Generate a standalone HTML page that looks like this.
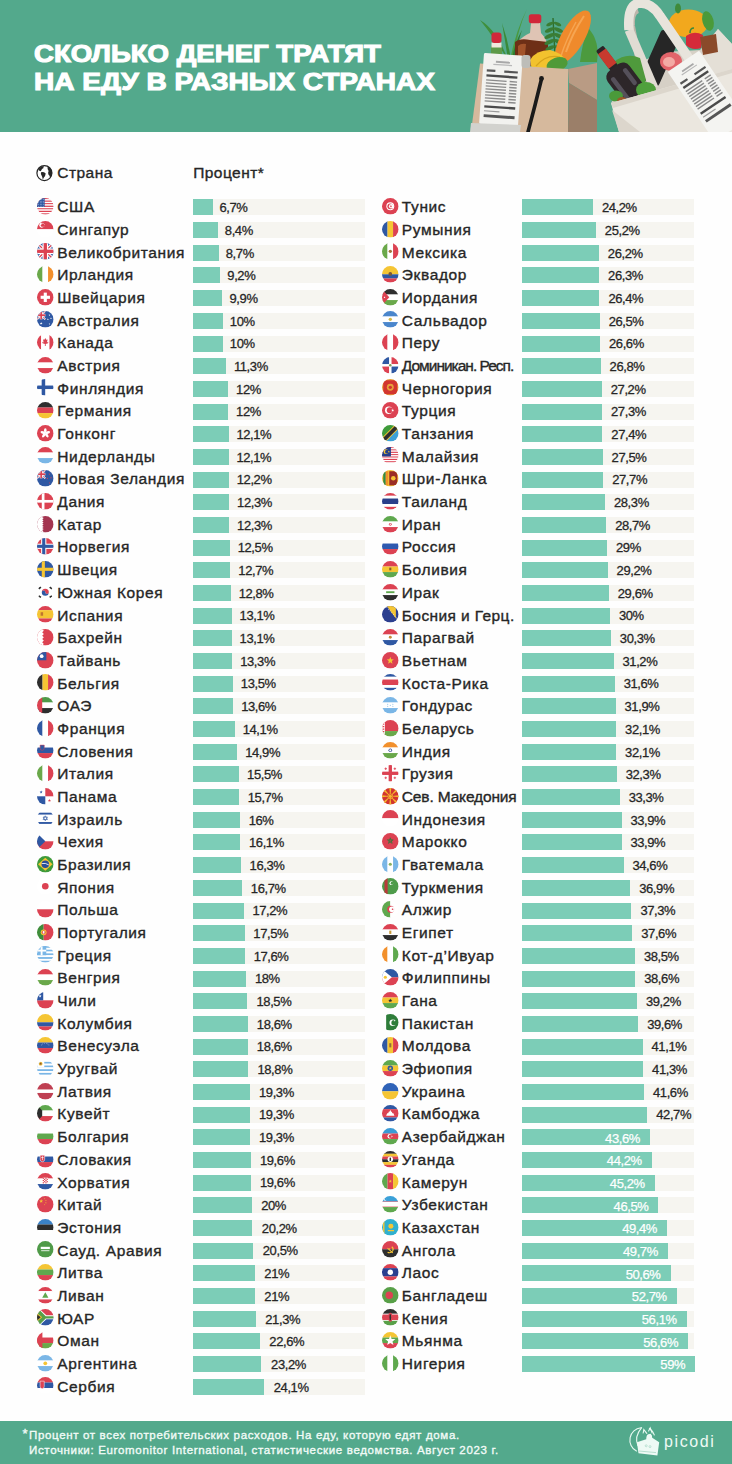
<!DOCTYPE html>
<html><head><meta charset="utf-8"><style>
*{margin:0;padding:0;box-sizing:border-box}
html,body{width:732px;height:1464px;overflow:hidden;background:#fefefe}
body{position:relative;font-family:"Liberation Sans",sans-serif;color:#262626}
.hd{position:absolute;left:0;top:0;width:732px;height:131.6px;background:#53a98c;overflow:hidden}
.tt{position:absolute;left:33.6px;color:#fff;font-weight:bold;font-size:24.4px;line-height:24.4px;white-space:nowrap;transform-origin:0 0;-webkit-text-stroke:1.1px #fff}
.fl{position:absolute;width:16.6px;height:16.6px;overflow:visible}
.nm{position:absolute;font-size:15.5px;line-height:15.5px;letter-spacing:0.62px;-webkit-text-stroke:0.35px #262626;white-space:nowrap}
.tr{position:absolute;height:16.0px;background:#f6f5f0}
.br{position:absolute;height:16.0px;background:#7ccdb7}
.lb{position:absolute;font-size:13px;line-height:13px;white-space:nowrap;letter-spacing:-0.4px;-webkit-text-stroke:0.28px #262626}
.lb.in{color:#fff;-webkit-text-stroke:0.25px #fff}
.hc{position:absolute;font-size:15.5px;line-height:15.5px;letter-spacing:0.45px;-webkit-text-stroke:0.35px #262626;white-space:nowrap}
.ft{position:absolute;left:0;top:1420.6px;width:732px;height:44px;background:#53a98c}
.fn{position:absolute;color:#f2fbf7;font-size:11.5px;line-height:11.5px;letter-spacing:0.66px;-webkit-text-stroke:0.35px #f2fbf7;white-space:nowrap}
.pc{position:absolute;left:664px;top:1434.2px;color:#effaf5;font-size:16px;line-height:16px;letter-spacing:1.6px}
</style></head><body>
<svg width="0" height="0" style="position:absolute"><defs><clipPath id="cc" clipPathUnits="userSpaceOnUse"><circle cx="8" cy="8" r="8"/></clipPath>
<symbol id="f-us" viewBox="0 0 16 16"><g clip-path="url(#cc)"><rect x="0" y="0.00" width="16" height="1.28" fill="#dc4252"/><rect x="0" y="1.23" width="16" height="1.28" fill="#fff"/><rect x="0" y="2.46" width="16" height="1.28" fill="#dc4252"/><rect x="0" y="3.69" width="16" height="1.28" fill="#fff"/><rect x="0" y="4.92" width="16" height="1.28" fill="#dc4252"/><rect x="0" y="6.15" width="16" height="1.28" fill="#fff"/><rect x="0" y="7.38" width="16" height="1.28" fill="#dc4252"/><rect x="0" y="8.62" width="16" height="1.28" fill="#fff"/><rect x="0" y="9.85" width="16" height="1.28" fill="#dc4252"/><rect x="0" y="11.08" width="16" height="1.28" fill="#fff"/><rect x="0" y="12.31" width="16" height="1.28" fill="#dc4252"/><rect x="0" y="13.54" width="16" height="1.28" fill="#fff"/><rect x="0" y="14.77" width="16" height="1.28" fill="#dc4252"/><rect x="0" y="0" width="7.4" height="8.6" fill="#2f58a3"/><circle cx="1.5" cy="1.5" r="0.35" fill="#fff"/><circle cx="1.5" cy="3.1" r="0.35" fill="#fff"/><circle cx="1.5" cy="4.7" r="0.35" fill="#fff"/><circle cx="1.5" cy="6.300000000000001" r="0.35" fill="#fff"/><circle cx="1.5" cy="7.9" r="0.35" fill="#fff"/><circle cx="3.1" cy="1.5" r="0.35" fill="#fff"/><circle cx="3.1" cy="3.1" r="0.35" fill="#fff"/><circle cx="3.1" cy="4.7" r="0.35" fill="#fff"/><circle cx="3.1" cy="6.300000000000001" r="0.35" fill="#fff"/><circle cx="3.1" cy="7.9" r="0.35" fill="#fff"/><circle cx="4.7" cy="1.5" r="0.35" fill="#fff"/><circle cx="4.7" cy="3.1" r="0.35" fill="#fff"/><circle cx="4.7" cy="4.7" r="0.35" fill="#fff"/><circle cx="4.7" cy="6.300000000000001" r="0.35" fill="#fff"/><circle cx="4.7" cy="7.9" r="0.35" fill="#fff"/><circle cx="6.300000000000001" cy="1.5" r="0.35" fill="#fff"/><circle cx="6.300000000000001" cy="3.1" r="0.35" fill="#fff"/><circle cx="6.300000000000001" cy="4.7" r="0.35" fill="#fff"/><circle cx="6.300000000000001" cy="6.300000000000001" r="0.35" fill="#fff"/><circle cx="6.300000000000001" cy="7.9" r="0.35" fill="#fff"/></g></symbol>
<symbol id="f-sg" viewBox="0 0 16 16"><g clip-path="url(#cc)"><rect x="0" y="0.00" width="16" height="8.05" fill="#dc4252"/><rect x="0" y="8.00" width="16" height="8.05" fill="#fff"/><circle cx="4.6" cy="4" r="2.4" fill="#fff"/><circle cx="5.6" cy="4" r="1.92" fill="#dc4252"/><circle cx="5.8" cy="2.5" r="0.35" fill="#fff"/><circle cx="7.1" cy="3.5" r="0.35" fill="#fff"/><circle cx="6.7" cy="5.1" r="0.35" fill="#fff"/><circle cx="4.8999999999999995" cy="5.1" r="0.35" fill="#fff"/><circle cx="4.5" cy="3.5" r="0.35" fill="#fff"/></g></symbol>
<symbol id="f-gb" viewBox="0 0 16 16"><g clip-path="url(#cc)"><rect x="0" y="0" width="16" height="16" fill="#2f58a3"/><path d="M0,0 L16,16 M16,0 L0,16" stroke="#fff" stroke-width="3.20"/><path d="M0,0 L16,16 M16,0 L0,16" stroke="#dc4252" stroke-width="1.28"/><rect x="5.279999999999999" y="0" width="5.44" height="16" fill="#fff"/><rect x="0" y="5.279999999999999" width="16" height="5.44" fill="#fff"/><rect x="6.4" y="0" width="3.2" height="16" fill="#dc4252"/><rect x="0" y="6.4" width="16" height="3.2" fill="#dc4252"/></g></symbol>
<symbol id="f-ie" viewBox="0 0 16 16"><g clip-path="url(#cc)"><rect x="0.00" y="0" width="5.38" height="16" fill="#6aa84a"/><rect x="5.33" y="0" width="5.38" height="16" fill="#fff"/><rect x="10.67" y="0" width="5.38" height="16" fill="#f2902c"/></g></symbol>
<symbol id="f-ch" viewBox="0 0 16 16"><g clip-path="url(#cc)"><rect width="16" height="16" fill="#dc4252"/><rect x="6.5" y="3.5" width="3" height="9" fill="#fff"/><rect x="3.5" y="6.5" width="9" height="3" fill="#fff"/></g></symbol>
<symbol id="f-au" viewBox="0 0 16 16"><g clip-path="url(#cc)"><rect width="16" height="16" fill="#2f58a3"/><rect x="0" y="0" width="8" height="8" fill="#2f58a3"/><path d="M0,0 L8,8 M8,0 L0,8" stroke="#fff" stroke-width="1.60"/><path d="M0,0 L8,8 M8,0 L0,8" stroke="#dc4252" stroke-width="0.64"/><rect x="2.6399999999999997" y="0" width="2.72" height="8" fill="#fff"/><rect x="0" y="2.6399999999999997" width="8" height="2.72" fill="#fff"/><rect x="3.2" y="0" width="1.6" height="8" fill="#dc4252"/><rect x="0" y="3.2" width="8" height="1.6" fill="#dc4252"/><polygon points="4.00,10.60 4.35,11.52 5.33,11.57 4.56,12.18 4.82,13.13 4.00,12.59 3.18,13.13 3.44,12.18 2.67,11.57 3.65,11.52" fill="#fff"/><polygon points="12.00,3.10 12.22,3.69 12.86,3.72 12.36,4.12 12.53,4.73 12.00,4.38 11.47,4.73 11.64,4.12 11.14,3.72 11.78,3.69" fill="#fff"/><polygon points="10.50,7.10 10.72,7.69 11.36,7.72 10.86,8.12 11.03,8.73 10.50,8.38 9.97,8.73 10.14,8.12 9.64,7.72 10.28,7.69" fill="#fff"/><polygon points="13.50,6.10 13.72,6.69 14.36,6.72 13.86,7.12 14.03,7.73 13.50,7.38 12.97,7.73 13.14,7.12 12.64,6.72 13.28,6.69" fill="#fff"/><polygon points="12.00,11.60 12.22,12.19 12.86,12.22 12.36,12.62 12.53,13.23 12.00,12.88 11.47,13.23 11.64,12.62 11.14,12.22 11.78,12.19" fill="#fff"/></g></symbol>
<symbol id="f-ca" viewBox="0 0 16 16"><g clip-path="url(#cc)"><rect x="0.00" y="0" width="4.05" height="16" fill="#dc4252"/><rect x="4.00" y="0" width="8.05" height="16" fill="#fff"/><rect x="12.00" y="0" width="4.05" height="16" fill="#dc4252"/><polygon points="8,3.8 8.9,5.6 10.2,5.2 9.6,8.2 11,7.4 10.6,9 8.4,9.6 8.4,11.6 7.6,11.6 7.6,9.6 5.4,9 5,7.4 6.4,8.2 5.8,5.2 7.1,5.6" fill="#dc4252"/></g></symbol>
<symbol id="f-at" viewBox="0 0 16 16"><g clip-path="url(#cc)"><rect x="0" y="0.00" width="16" height="5.38" fill="#dc4252"/><rect x="0" y="5.33" width="16" height="5.38" fill="#fff"/><rect x="0" y="10.67" width="16" height="5.38" fill="#dc4252"/></g></symbol>
<symbol id="f-fi" viewBox="0 0 16 16"><g clip-path="url(#cc)"><rect width="16" height="16" fill="#fff"/><rect x="4.5" y="0" width="3.4" height="16" fill="#2f58a3"/><rect x="0" y="6.3" width="16" height="3.4" fill="#2f58a3"/></g></symbol>
<symbol id="f-de" viewBox="0 0 16 16"><g clip-path="url(#cc)"><rect x="0" y="0.00" width="16" height="5.38" fill="#2e2e2e"/><rect x="0" y="5.33" width="16" height="5.38" fill="#dc4252"/><rect x="0" y="10.67" width="16" height="5.38" fill="#f5c534"/></g></symbol>
<symbol id="f-hk" viewBox="0 0 16 16"><g clip-path="url(#cc)"><rect width="16" height="16" fill="#dc4252"/><ellipse cx="8" cy="5.6" rx="1.3" ry="2.4" fill="#fff" transform="rotate(0 8 8)"/><ellipse cx="8" cy="5.6" rx="1.3" ry="2.4" fill="#fff" transform="rotate(72 8 8)"/><ellipse cx="8" cy="5.6" rx="1.3" ry="2.4" fill="#fff" transform="rotate(144 8 8)"/><ellipse cx="8" cy="5.6" rx="1.3" ry="2.4" fill="#fff" transform="rotate(216 8 8)"/><ellipse cx="8" cy="5.6" rx="1.3" ry="2.4" fill="#fff" transform="rotate(288 8 8)"/></g></symbol>
<symbol id="f-nl" viewBox="0 0 16 16"><g clip-path="url(#cc)"><rect x="0" y="0.00" width="16" height="5.38" fill="#dc4252"/><rect x="0" y="5.33" width="16" height="5.38" fill="#fff"/><rect x="0" y="10.67" width="16" height="5.38" fill="#7ab6e6"/></g></symbol>
<symbol id="f-nz" viewBox="0 0 16 16"><g clip-path="url(#cc)"><rect width="16" height="16" fill="#2f58a3"/><rect x="0" y="0" width="8" height="8" fill="#2f58a3"/><path d="M0,0 L8,8 M8,0 L0,8" stroke="#fff" stroke-width="1.60"/><path d="M0,0 L8,8 M8,0 L0,8" stroke="#dc4252" stroke-width="0.64"/><rect x="2.6399999999999997" y="0" width="2.72" height="8" fill="#fff"/><rect x="0" y="2.6399999999999997" width="8" height="2.72" fill="#fff"/><rect x="3.2" y="0" width="1.6" height="8" fill="#dc4252"/><rect x="0" y="3.2" width="8" height="1.6" fill="#dc4252"/><polygon points="12.00,3.10 12.22,3.69 12.86,3.72 12.36,4.12 12.53,4.73 12.00,4.38 11.47,4.73 11.64,4.12 11.14,3.72 11.78,3.69" fill="#dc4252"/><polygon points="10.00,7.10 10.22,7.69 10.86,7.72 10.36,8.12 10.53,8.73 10.00,8.38 9.47,8.73 9.64,8.12 9.14,7.72 9.78,7.69" fill="#dc4252"/><polygon points="13.50,6.60 13.72,7.19 14.36,7.22 13.86,7.62 14.03,8.23 13.50,7.88 12.97,8.23 13.14,7.62 12.64,7.22 13.28,7.19" fill="#dc4252"/><polygon points="12.00,11.60 12.22,12.19 12.86,12.22 12.36,12.62 12.53,13.23 12.00,12.88 11.47,13.23 11.64,12.62 11.14,12.22 11.78,12.19" fill="#dc4252"/></g></symbol>
<symbol id="f-dk" viewBox="0 0 16 16"><g clip-path="url(#cc)"><rect width="16" height="16" fill="#dc4252"/><rect x="4.6" y="0" width="2.6" height="16" fill="#fff"/><rect x="0" y="6.7" width="16" height="2.6" fill="#fff"/></g></symbol>
<symbol id="f-qa" viewBox="0 0 16 16"><g clip-path="url(#cc)"><rect width="16" height="16" fill="#a33550"/><polygon points="0,0 5,0 5,0.00 6.4,0.89 5,1.78 6.4,2.67 5,3.56 6.4,4.44 5,5.33 6.4,6.22 5,7.11 6.4,8.00 5,8.89 6.4,9.78 5,10.67 6.4,11.56 5,12.44 6.4,13.33 5,14.22 6.4,15.11 5,16.00 0,16" fill="#fff"/></g></symbol>
<symbol id="f-no" viewBox="0 0 16 16"><g clip-path="url(#cc)"><rect width="16" height="16" fill="#dc4252"/><rect x="4" y="0" width="5" height="16" fill="#fff"/><rect x="0" y="5.5" width="16" height="5" fill="#fff"/><rect x="5" y="0" width="3" height="16" fill="#2f58a3"/><rect x="0" y="6.5" width="16" height="3" fill="#2f58a3"/></g></symbol>
<symbol id="f-se" viewBox="0 0 16 16"><g clip-path="url(#cc)"><rect width="16" height="16" fill="#2f58a3"/><rect x="4.6" y="0" width="3" height="16" fill="#f5c534"/><rect x="0" y="6.5" width="16" height="3" fill="#f5c534"/></g></symbol>
<symbol id="f-kr" viewBox="0 0 16 16"><g clip-path="url(#cc)"><rect width="16" height="16" fill="#fff"/><path d="M4.6,8 A3.4,3.4 0 0 1 11.4,8 A1.7,1.7 0 0 1 8,8 A1.7,1.7 0 0 0 4.6,8Z" fill="#dc4252"/><path d="M4.6,8 A3.4,3.4 0 0 0 11.4,8 A1.7,1.7 0 0 1 8,8 A1.7,1.7 0 0 0 4.6,8Z" fill="#2f58a3"/><rect x="1.4" y="3" width="2.6" height="1.6" fill="#2e2e2e" transform="rotate(-35 2.7 3.8)"/><rect x="12" y="3" width="2.6" height="1.6" fill="#2e2e2e" transform="rotate(35 13.3 3.8)"/><rect x="1.4" y="11.4" width="2.6" height="1.6" fill="#2e2e2e" transform="rotate(35 2.7 12.200000000000001)"/><rect x="12" y="11.4" width="2.6" height="1.6" fill="#2e2e2e" transform="rotate(-35 13.3 12.200000000000001)"/></g></symbol>
<symbol id="f-es" viewBox="0 0 16 16"><g clip-path="url(#cc)"><rect x="0" y="0.00" width="16" height="4.05" fill="#dc4252"/><rect x="0" y="4.00" width="16" height="8.05" fill="#f5c534"/><rect x="0" y="12.00" width="16" height="4.05" fill="#dc4252"/><rect x="3.5" y="6" width="2.4" height="3.4" fill="#c0752e"/></g></symbol>
<symbol id="f-bh" viewBox="0 0 16 16"><g clip-path="url(#cc)"><rect width="16" height="16" fill="#dc4252"/><polygon points="0,0 5,0 5,0.00 6.6,1.60 5,3.20 6.6,4.80 5,6.40 6.6,8.00 5,9.60 6.6,11.20 5,12.80 6.6,14.40 5,16.00 0,16" fill="#fff"/></g></symbol>
<symbol id="f-tw" viewBox="0 0 16 16"><g clip-path="url(#cc)"><rect width="16" height="16" fill="#dc4252"/><rect x="0" y="0" width="9" height="8" fill="#2f58a3"/><circle cx="4.5" cy="4" r="1.8" fill="#fff"/></g></symbol>
<symbol id="f-be" viewBox="0 0 16 16"><g clip-path="url(#cc)"><rect x="0.00" y="0" width="5.38" height="16" fill="#2e2e2e"/><rect x="5.33" y="0" width="5.38" height="16" fill="#f5c534"/><rect x="10.67" y="0" width="5.38" height="16" fill="#dc4252"/></g></symbol>
<symbol id="f-ae" viewBox="0 0 16 16"><g clip-path="url(#cc)"><rect x="0" y="0.00" width="16" height="5.38" fill="#4f9a48"/><rect x="0" y="5.33" width="16" height="5.38" fill="#fff"/><rect x="0" y="10.67" width="16" height="5.38" fill="#2e2e2e"/><rect x="0" y="0" width="5" height="16" fill="#dc4252"/></g></symbol>
<symbol id="f-fr" viewBox="0 0 16 16"><g clip-path="url(#cc)"><rect x="0.00" y="0" width="5.38" height="16" fill="#2f58a3"/><rect x="5.33" y="0" width="5.38" height="16" fill="#fff"/><rect x="10.67" y="0" width="5.38" height="16" fill="#dc4252"/></g></symbol>
<symbol id="f-si" viewBox="0 0 16 16"><g clip-path="url(#cc)"><rect x="0" y="0.00" width="16" height="5.38" fill="#fff"/><rect x="0" y="5.33" width="16" height="5.38" fill="#2f58a3"/><rect x="0" y="10.67" width="16" height="5.38" fill="#dc4252"/><path d="M3,3 h4 v3 a2,2 0 0 1 -4,0z" fill="#2f58a3" stroke="#dc4252" stroke-width="0.5"/></g></symbol>
<symbol id="f-it" viewBox="0 0 16 16"><g clip-path="url(#cc)"><rect x="0.00" y="0" width="5.38" height="16" fill="#6aa84a"/><rect x="5.33" y="0" width="5.38" height="16" fill="#fff"/><rect x="10.67" y="0" width="5.38" height="16" fill="#dc4252"/></g></symbol>
<symbol id="f-pa" viewBox="0 0 16 16"><g clip-path="url(#cc)"><rect width="16" height="16" fill="#fff"/><rect x="8" y="0" width="8" height="8" fill="#dc4252"/><rect x="0" y="8" width="8" height="8" fill="#2f58a3"/><polygon points="4.00,2.40 4.39,3.46 5.52,3.51 4.64,4.21 4.94,5.29 4.00,4.67 3.06,5.29 3.36,4.21 2.48,3.51 3.61,3.46" fill="#2f58a3"/><polygon points="12.00,10.40 12.39,11.46 13.52,11.51 12.64,12.21 12.94,13.29 12.00,12.67 11.06,13.29 11.36,12.21 10.48,11.51 11.61,11.46" fill="#dc4252"/></g></symbol>
<symbol id="f-il" viewBox="0 0 16 16"><g clip-path="url(#cc)"><rect width="16" height="16" fill="#fff"/><rect x="0" y="2.6" width="16" height="1.8" fill="#2f58a3"/><rect x="0" y="11.6" width="16" height="1.8" fill="#2f58a3"/><path d="M8,5.6 L10.1,9.2 L5.9,9.2Z M8,10.4 L5.9,6.8 L10.1,6.8Z" fill="none" stroke="#2f58a3" stroke-width="0.6"/></g></symbol>
<symbol id="f-cz" viewBox="0 0 16 16"><g clip-path="url(#cc)"><rect x="0" y="0.00" width="16" height="8.05" fill="#fff"/><rect x="0" y="8.00" width="16" height="8.05" fill="#dc4252"/><polygon points="0,0 8,8 0,16" fill="#2f58a3"/></g></symbol>
<symbol id="f-br" viewBox="0 0 16 16"><g clip-path="url(#cc)"><rect width="16" height="16" fill="#3f9b3a"/><polygon points="8,1.8 15,8 8,14.2 1,8" fill="#f5c534"/><circle cx="8" cy="8" r="3.6" fill="#2a4f98"/><path d="M4.6,7.3 Q8,6.4 11.4,8.6" stroke="#fff" stroke-width="0.8" fill="none"/></g></symbol>
<symbol id="f-jp" viewBox="0 0 16 16"><g clip-path="url(#cc)"><rect width="16" height="16" fill="#fff"/><circle cx="8" cy="8" r="3.2" fill="#dc4252"/></g></symbol>
<symbol id="f-pl" viewBox="0 0 16 16"><g clip-path="url(#cc)"><rect x="0" y="0.00" width="16" height="8.05" fill="#fff"/><rect x="0" y="8.00" width="16" height="8.05" fill="#dc4252"/></g></symbol>
<symbol id="f-pt" viewBox="0 0 16 16"><g clip-path="url(#cc)"><rect x="0.00" y="0" width="6.45" height="16" fill="#3f8d3a"/><rect x="6.40" y="0" width="9.65" height="16" fill="#dc4252"/><circle cx="6.4" cy="8" r="2.8" fill="#f5c534"/><circle cx="6.4" cy="8" r="1.8" fill="#dc4252"/><rect x="5.6" y="6.8" width="1.6" height="2.4" fill="#fff"/></g></symbol>
<symbol id="f-gr" viewBox="0 0 16 16"><g clip-path="url(#cc)"><rect x="0" y="0.00" width="16" height="1.83" fill="#7ab6e6"/><rect x="0" y="1.78" width="16" height="1.83" fill="#fff"/><rect x="0" y="3.56" width="16" height="1.83" fill="#7ab6e6"/><rect x="0" y="5.33" width="16" height="1.83" fill="#fff"/><rect x="0" y="7.11" width="16" height="1.83" fill="#7ab6e6"/><rect x="0" y="8.89" width="16" height="1.83" fill="#fff"/><rect x="0" y="10.67" width="16" height="1.83" fill="#7ab6e6"/><rect x="0" y="12.44" width="16" height="1.83" fill="#fff"/><rect x="0" y="14.22" width="16" height="1.83" fill="#7ab6e6"/><rect x="0" y="0" width="8.9" height="8.9" fill="#7ab6e6"/><rect x="3.55" y="0" width="1.8" height="8.9" fill="#fff"/><rect x="0" y="3.55" width="8.9" height="1.8" fill="#fff"/></g></symbol>
<symbol id="f-hu" viewBox="0 0 16 16"><g clip-path="url(#cc)"><rect x="0" y="0.00" width="16" height="5.38" fill="#dc4252"/><rect x="0" y="5.33" width="16" height="5.38" fill="#fff"/><rect x="0" y="10.67" width="16" height="5.38" fill="#6aa84a"/></g></symbol>
<symbol id="f-cl" viewBox="0 0 16 16"><g clip-path="url(#cc)"><rect x="0" y="0.00" width="16" height="8.05" fill="#fff"/><rect x="0" y="8.00" width="16" height="8.05" fill="#dc4252"/><rect x="0" y="0" width="6" height="8" fill="#2f58a3"/><polygon points="3.00,2.40 3.39,3.46 4.52,3.51 3.64,4.21 3.94,5.29 3.00,4.67 2.06,5.29 2.36,4.21 1.48,3.51 2.61,3.46" fill="#fff"/></g></symbol>
<symbol id="f-co" viewBox="0 0 16 16"><g clip-path="url(#cc)"><rect x="0" y="0.00" width="16" height="8.05" fill="#f5c534"/><rect x="0" y="8.00" width="16" height="4.05" fill="#2f58a3"/><rect x="0" y="12.00" width="16" height="4.05" fill="#dc4252"/></g></symbol>
<symbol id="f-ve" viewBox="0 0 16 16"><g clip-path="url(#cc)"><rect x="0" y="0.00" width="16" height="5.38" fill="#f5c534"/><rect x="0" y="5.33" width="16" height="5.38" fill="#2f58a3"/><rect x="0" y="10.67" width="16" height="5.38" fill="#dc4252"/><circle cx="11.510330247561491" cy="7.66583827646655" r="0.35" fill="#fff"/><circle cx="10.486439873082658" cy="6.693353889192052" r="0.35" fill="#fff"/><circle cx="9.06999531449835" cy="6.116613806664981" r="0.35" fill="#fff"/><circle cx="6.9361444975640785" cy="6.115254412312165" r="0.35" fill="#fff"/><circle cx="5.518553551949281" cy="6.690189039729855" r="0.35" fill="#fff"/><circle cx="4.4927284384228745" cy="7.661367632036325" r="0.35" fill="#fff"/></g></symbol>
<symbol id="f-uy" viewBox="0 0 16 16"><g clip-path="url(#cc)"><rect x="0" y="0.00" width="16" height="1.83" fill="#fff"/><rect x="0" y="1.78" width="16" height="1.83" fill="#7ab6e6"/><rect x="0" y="3.56" width="16" height="1.83" fill="#fff"/><rect x="0" y="5.33" width="16" height="1.83" fill="#7ab6e6"/><rect x="0" y="7.11" width="16" height="1.83" fill="#fff"/><rect x="0" y="8.89" width="16" height="1.83" fill="#7ab6e6"/><rect x="0" y="10.67" width="16" height="1.83" fill="#fff"/><rect x="0" y="12.44" width="16" height="1.83" fill="#7ab6e6"/><rect x="0" y="14.22" width="16" height="1.83" fill="#fff"/><rect x="0" y="0" width="7" height="7" fill="#fff"/><circle cx="3.5" cy="3.5" r="1.8" fill="#e9b73a"/><circle cx="3.5" cy="3.5" r="0.9" fill="#8a5a2b"/></g></symbol>
<symbol id="f-lv" viewBox="0 0 16 16"><g clip-path="url(#cc)"><rect x="0" y="0.00" width="16" height="6.45" fill="#bf3f52"/><rect x="0" y="6.40" width="16" height="3.25" fill="#fff"/><rect x="0" y="9.60" width="16" height="6.45" fill="#bf3f52"/></g></symbol>
<symbol id="f-kw" viewBox="0 0 16 16"><g clip-path="url(#cc)"><rect x="0" y="0.00" width="16" height="5.38" fill="#5fa84e"/><rect x="0" y="5.33" width="16" height="5.38" fill="#fff"/><rect x="0" y="10.67" width="16" height="5.38" fill="#dc4252"/><polygon points="0,0 5,5.33 5,10.67 0,16" fill="#2e2e2e"/></g></symbol>
<symbol id="f-bg" viewBox="0 0 16 16"><g clip-path="url(#cc)"><rect x="0" y="0.00" width="16" height="5.38" fill="#fff"/><rect x="0" y="5.33" width="16" height="5.38" fill="#5fa84e"/><rect x="0" y="10.67" width="16" height="5.38" fill="#dc4252"/></g></symbol>
<symbol id="f-sk" viewBox="0 0 16 16"><g clip-path="url(#cc)"><rect x="0" y="0.00" width="16" height="5.38" fill="#fff"/><rect x="0" y="5.33" width="16" height="5.38" fill="#2f58a3"/><rect x="0" y="10.67" width="16" height="5.38" fill="#dc4252"/><path d="M3,4 h4.4 v4 a2.2,2.4 0 0 1 -4.4,0z" fill="#dc4252" stroke="#fff" stroke-width="0.5"/><rect x="4.9" y="5" width="0.6" height="3.8" fill="#fff"/><rect x="4" y="6" width="2.4" height="0.6" fill="#fff"/></g></symbol>
<symbol id="f-hr" viewBox="0 0 16 16"><g clip-path="url(#cc)"><rect x="0" y="0.00" width="16" height="5.38" fill="#dc4252"/><rect x="0" y="5.33" width="16" height="5.38" fill="#fff"/><rect x="0" y="10.67" width="16" height="5.38" fill="#2f58a3"/><rect x="5.5" y="4.5" width="5" height="5.5" fill="#fff"/><rect x="5.5" y="4.5" width="1.25" height="1.1" fill="#dc4252"/><rect x="5.5" y="6.7" width="1.25" height="1.1" fill="#dc4252"/><rect x="5.5" y="8.9" width="1.25" height="1.1" fill="#dc4252"/><rect x="6.75" y="5.6" width="1.25" height="1.1" fill="#dc4252"/><rect x="6.75" y="7.800000000000001" width="1.25" height="1.1" fill="#dc4252"/><rect x="8.0" y="4.5" width="1.25" height="1.1" fill="#dc4252"/><rect x="8.0" y="6.7" width="1.25" height="1.1" fill="#dc4252"/><rect x="8.0" y="8.9" width="1.25" height="1.1" fill="#dc4252"/><rect x="9.25" y="5.6" width="1.25" height="1.1" fill="#dc4252"/><rect x="9.25" y="7.800000000000001" width="1.25" height="1.1" fill="#dc4252"/></g></symbol>
<symbol id="f-cn" viewBox="0 0 16 16"><g clip-path="url(#cc)"><rect width="16" height="16" fill="#dc4252"/><polygon points="4.00,3.00 4.49,4.32 5.90,4.38 4.80,5.26 5.18,6.62 4.00,5.84 2.82,6.62 3.20,5.26 2.10,4.38 3.51,4.32" fill="#f5c534"/><polygon points="7.40,1.90 7.57,2.36 8.07,2.38 7.68,2.69 7.81,3.17 7.40,2.89 6.99,3.17 7.12,2.69 6.73,2.38 7.23,2.36" fill="#f5c534"/><polygon points="8.60,3.70 8.77,4.16 9.27,4.18 8.88,4.49 9.01,4.97 8.60,4.69 8.19,4.97 8.32,4.49 7.93,4.18 8.43,4.16" fill="#f5c534"/><polygon points="8.60,5.90 8.77,6.36 9.27,6.38 8.88,6.69 9.01,7.17 8.60,6.89 8.19,7.17 8.32,6.69 7.93,6.38 8.43,6.36" fill="#f5c534"/><polygon points="7.40,7.70 7.57,8.16 8.07,8.18 7.68,8.49 7.81,8.97 7.40,8.69 6.99,8.97 7.12,8.49 6.73,8.18 7.23,8.16" fill="#f5c534"/></g></symbol>
<symbol id="f-ee" viewBox="0 0 16 16"><g clip-path="url(#cc)"><rect x="0" y="0.00" width="16" height="5.38" fill="#3a82c8"/><rect x="0" y="5.33" width="16" height="5.38" fill="#2e2e2e"/><rect x="0" y="10.67" width="16" height="5.38" fill="#fff"/></g></symbol>
<symbol id="f-sa" viewBox="0 0 16 16"><g clip-path="url(#cc)"><rect width="16" height="16" fill="#4f9a48"/><rect x="3.6" y="5.6" width="8.8" height="2.2" fill="#fff"/><rect x="4" y="9" width="8" height="0.8" fill="#fff"/></g></symbol>
<symbol id="f-lt" viewBox="0 0 16 16"><g clip-path="url(#cc)"><rect x="0" y="0.00" width="16" height="5.38" fill="#f5c534"/><rect x="0" y="5.33" width="16" height="5.38" fill="#5fa84e"/><rect x="0" y="10.67" width="16" height="5.38" fill="#dc4252"/></g></symbol>
<symbol id="f-lb" viewBox="0 0 16 16"><g clip-path="url(#cc)"><rect x="0" y="0.00" width="16" height="4.05" fill="#dc4252"/><rect x="0" y="4.00" width="16" height="8.05" fill="#fff"/><rect x="0" y="12.00" width="16" height="4.05" fill="#dc4252"/><polygon points="8,5 11,10.4 5,10.4" fill="#5fa84e"/></g></symbol>
<symbol id="f-za" viewBox="0 0 16 16"><g clip-path="url(#cc)"><rect x="0" y="0.00" width="16" height="8.05" fill="#dc4252"/><rect x="0" y="8.00" width="16" height="8.05" fill="#2f58a3"/><polygon points="0,0 2.5,0 9,6 16,6 16,10 9,10 2.5,16 0,16" fill="#fff"/><polygon points="0,1.5 1.6,0 8.4,6.9 16,6.9 16,9.1 8.4,9.1 1.6,16 0,14.5" fill="#58a048"/><polygon points="0,3.8 5,8 0,12.2" fill="#f5c534"/><polygon points="0,5 3.6,8 0,11" fill="#2e2e2e"/></g></symbol>
<symbol id="f-om" viewBox="0 0 16 16"><g clip-path="url(#cc)"><rect x="0" y="0.00" width="16" height="5.38" fill="#fff"/><rect x="0" y="5.33" width="16" height="5.38" fill="#dc4252"/><rect x="0" y="10.67" width="16" height="5.38" fill="#6aa84a"/><rect x="0" y="0" width="5.2" height="16" fill="#dc4252"/></g></symbol>
<symbol id="f-ar" viewBox="0 0 16 16"><g clip-path="url(#cc)"><rect x="0" y="0.00" width="16" height="5.38" fill="#7ab6e6"/><rect x="0" y="5.33" width="16" height="5.38" fill="#fff"/><rect x="0" y="10.67" width="16" height="5.38" fill="#7ab6e6"/><circle cx="8" cy="8" r="1.8" fill="#f5c534"/></g></symbol>
<symbol id="f-rs" viewBox="0 0 16 16"><g clip-path="url(#cc)"><rect x="0" y="0.00" width="16" height="5.38" fill="#dc4252"/><rect x="0" y="5.33" width="16" height="5.38" fill="#2f58a3"/><rect x="0" y="10.67" width="16" height="5.38" fill="#fff"/><path d="M3,4 h4 v5 a2,2.4 0 0 1 -4,0z" fill="#dc4252" stroke="#fff" stroke-width="0.5"/></g></symbol>
<symbol id="f-tn" viewBox="0 0 16 16"><g clip-path="url(#cc)"><rect width="16" height="16" fill="#dc4252"/><circle cx="8" cy="8" r="3.8" fill="#fff"/><circle cx="8" cy="8" r="2.8" fill="#dc4252"/><circle cx="8.9" cy="8" r="2.2399999999999998" fill="#fff"/><polygon points="8.60,6.70 8.92,7.56 9.84,7.60 9.12,8.17 9.36,9.05 8.60,8.55 7.84,9.05 8.08,8.17 7.36,7.60 8.28,7.56" fill="#dc4252"/></g></symbol>
<symbol id="f-ro" viewBox="0 0 16 16"><g clip-path="url(#cc)"><rect x="0.00" y="0" width="5.38" height="16" fill="#2f58a3"/><rect x="5.33" y="0" width="5.38" height="16" fill="#f5c534"/><rect x="10.67" y="0" width="5.38" height="16" fill="#dc4252"/></g></symbol>
<symbol id="f-mx" viewBox="0 0 16 16"><g clip-path="url(#cc)"><rect x="0.00" y="0" width="5.38" height="16" fill="#6aa84a"/><rect x="5.33" y="0" width="5.38" height="16" fill="#fff"/><rect x="10.67" y="0" width="5.38" height="16" fill="#dc4252"/><circle cx="8" cy="8" r="1.6" fill="#a3733a"/></g></symbol>
<symbol id="f-ec" viewBox="0 0 16 16"><g clip-path="url(#cc)"><rect x="0" y="0.00" width="16" height="8.05" fill="#f5c534"/><rect x="0" y="8.00" width="16" height="4.05" fill="#2f58a3"/><rect x="0" y="12.00" width="16" height="4.05" fill="#dc4252"/><circle cx="8" cy="7.6" r="1.8" fill="#7a5a3a"/></g></symbol>
<symbol id="f-jo" viewBox="0 0 16 16"><g clip-path="url(#cc)"><rect x="0" y="0.00" width="16" height="5.38" fill="#2e2e2e"/><rect x="0" y="5.33" width="16" height="5.38" fill="#fff"/><rect x="0" y="10.67" width="16" height="5.38" fill="#6aa84a"/><polygon points="0,0 7,8 0,16" fill="#dc4252"/><polygon points="2.40,7.00 2.65,7.66 3.35,7.69 2.80,8.13 2.99,8.81 2.40,8.42 1.81,8.81 2.00,8.13 1.45,7.69 2.15,7.66" fill="#fff"/></g></symbol>
<symbol id="f-sv" viewBox="0 0 16 16"><g clip-path="url(#cc)"><rect x="0" y="0.00" width="16" height="5.38" fill="#4a86cc"/><rect x="0" y="5.33" width="16" height="5.38" fill="#fff"/><rect x="0" y="10.67" width="16" height="5.38" fill="#4a86cc"/><circle cx="8" cy="8" r="1.6" fill="#d4b84a"/></g></symbol>
<symbol id="f-pe" viewBox="0 0 16 16"><g clip-path="url(#cc)"><rect x="0.00" y="0" width="5.38" height="16" fill="#dc4252"/><rect x="5.33" y="0" width="5.38" height="16" fill="#fff"/><rect x="10.67" y="0" width="5.38" height="16" fill="#dc4252"/></g></symbol>
<symbol id="f-do" viewBox="0 0 16 16"><g clip-path="url(#cc)"><rect width="16" height="16" fill="#fff"/><rect x="0" y="0" width="6.8" height="6.8" fill="#2f58a3"/><rect x="9.2" y="0" width="6.8" height="6.8" fill="#dc4252"/><rect x="0" y="9.2" width="6.8" height="6.8" fill="#dc4252"/><rect x="9.2" y="9.2" width="6.8" height="6.8" fill="#2f58a3"/><circle cx="8" cy="8" r="1.2" fill="#7a9a5a"/></g></symbol>
<symbol id="f-me" viewBox="0 0 16 16"><g clip-path="url(#cc)"><rect width="16" height="16" fill="#e8a13a"/><rect x="1.2" y="1.2" width="13.6" height="13.6" fill="#d2352f"/><circle cx="8" cy="8" r="3.3" fill="#e8a13a"/><circle cx="8" cy="8" r="1.6" fill="#d2352f"/></g></symbol>
<symbol id="f-tr" viewBox="0 0 16 16"><g clip-path="url(#cc)"><rect width="16" height="16" fill="#dc4252"/><circle cx="6.5" cy="8" r="3.6" fill="#fff"/><circle cx="7.5" cy="8" r="2.8800000000000003" fill="#dc4252"/><polygon points="10.74,6.57 10.80,7.62 11.80,7.98 10.81,8.36 10.78,9.42 10.11,8.60 9.10,8.90 9.67,8.01 9.07,7.14 10.10,7.40" fill="#fff"/></g></symbol>
<symbol id="f-tz" viewBox="0 0 16 16"><g clip-path="url(#cc)"><polygon points="0,0 16,0 0,16" fill="#3e9b3a"/><polygon points="16,0 16,16 0,16" fill="#3ca0d8"/><path d="M-1,17 L17,-1" stroke="#f5c534" stroke-width="5.4"/><path d="M-1,17 L17,-1" stroke="#2e2e2e" stroke-width="3.6"/></g></symbol>
<symbol id="f-my" viewBox="0 0 16 16"><g clip-path="url(#cc)"><rect x="0" y="0.00" width="16" height="1.19" fill="#dc4252"/><rect x="0" y="1.14" width="16" height="1.19" fill="#fff"/><rect x="0" y="2.29" width="16" height="1.19" fill="#dc4252"/><rect x="0" y="3.43" width="16" height="1.19" fill="#fff"/><rect x="0" y="4.57" width="16" height="1.19" fill="#dc4252"/><rect x="0" y="5.71" width="16" height="1.19" fill="#fff"/><rect x="0" y="6.86" width="16" height="1.19" fill="#dc4252"/><rect x="0" y="8.00" width="16" height="1.19" fill="#fff"/><rect x="0" y="9.14" width="16" height="1.19" fill="#dc4252"/><rect x="0" y="10.29" width="16" height="1.19" fill="#fff"/><rect x="0" y="11.43" width="16" height="1.19" fill="#dc4252"/><rect x="0" y="12.57" width="16" height="1.19" fill="#fff"/><rect x="0" y="13.71" width="16" height="1.19" fill="#dc4252"/><rect x="0" y="14.86" width="16" height="1.19" fill="#fff"/><rect x="0" y="0" width="8.6" height="9.1" fill="#233f8a"/><circle cx="3.8" cy="4.5" r="2.3" fill="#f5c534"/><circle cx="4.8" cy="4.5" r="1.8399999999999999" fill="#233f8a"/><polygon points="6.60,3.40 6.87,4.13 7.65,4.16 7.04,4.64 7.25,5.39 6.60,4.96 5.95,5.39 6.16,4.64 5.55,4.16 6.33,4.13" fill="#f5c534"/></g></symbol>
<symbol id="f-lk" viewBox="0 0 16 16"><g clip-path="url(#cc)"><rect width="16" height="16" fill="#f5c534"/><rect x="1.2" y="1.2" width="2.4" height="13.6" fill="#2f8a4a"/><rect x="3.6" y="1.2" width="2.4" height="13.6" fill="#f2902c"/><rect x="7" y="1.2" width="7.8" height="13.6" fill="#9b2d25"/><circle cx="10.9" cy="8" r="2.2" fill="#f5c534"/></g></symbol>
<symbol id="f-th" viewBox="0 0 16 16"><g clip-path="url(#cc)"><rect x="0" y="0.00" width="16" height="2.72" fill="#dc4252"/><rect x="0" y="2.67" width="16" height="2.72" fill="#fff"/><rect x="0" y="5.33" width="16" height="5.38" fill="#2a3f8a"/><rect x="0" y="10.67" width="16" height="2.72" fill="#fff"/><rect x="0" y="13.33" width="16" height="2.72" fill="#dc4252"/></g></symbol>
<symbol id="f-ir" viewBox="0 0 16 16"><g clip-path="url(#cc)"><rect x="0" y="0.00" width="16" height="5.38" fill="#5fa84e"/><rect x="0" y="5.33" width="16" height="5.38" fill="#fff"/><rect x="0" y="10.67" width="16" height="5.38" fill="#dc4252"/><circle cx="8" cy="8" r="1.3" fill="#dc4252"/><circle cx="8" cy="8" r="0.7" fill="#fff"/></g></symbol>
<symbol id="f-ru" viewBox="0 0 16 16"><g clip-path="url(#cc)"><rect x="0" y="0.00" width="16" height="5.38" fill="#fff"/><rect x="0" y="5.33" width="16" height="5.38" fill="#2f5ab0"/><rect x="0" y="10.67" width="16" height="5.38" fill="#dc4252"/></g></symbol>
<symbol id="f-bo" viewBox="0 0 16 16"><g clip-path="url(#cc)"><rect x="0" y="0.00" width="16" height="5.38" fill="#dc4252"/><rect x="0" y="5.33" width="16" height="5.38" fill="#f5c534"/><rect x="0" y="10.67" width="16" height="5.38" fill="#5fa84e"/><rect x="7" y="6.4" width="2" height="2.6" fill="#8a5a2b"/></g></symbol>
<symbol id="f-iq" viewBox="0 0 16 16"><g clip-path="url(#cc)"><rect x="0" y="0.00" width="16" height="5.38" fill="#dc4252"/><rect x="0" y="5.33" width="16" height="5.38" fill="#fff"/><rect x="0" y="10.67" width="16" height="5.38" fill="#2e2e2e"/><rect x="4" y="7" width="8" height="1.8" fill="#5fa84e"/></g></symbol>
<symbol id="f-ba" viewBox="0 0 16 16"><g clip-path="url(#cc)"><rect width="16" height="16" fill="#2c3f8f"/><polygon points="4.6,0 13.4,0 13.4,12" fill="#f5c534"/><polygon points="3.20,-0.95 3.36,-0.52 3.82,-0.50 3.46,-0.22 3.58,0.23 3.20,-0.03 2.82,0.23 2.94,-0.22 2.58,-0.50 3.04,-0.52" fill="#fff"/><polygon points="4.75,0.75 4.91,1.18 5.37,1.20 5.01,1.48 5.13,1.93 4.75,1.67 4.37,1.93 4.49,1.48 4.13,1.20 4.59,1.18" fill="#fff"/><polygon points="6.30,2.45 6.46,2.88 6.92,2.90 6.56,3.18 6.68,3.63 6.30,3.37 5.92,3.63 6.04,3.18 5.68,2.90 6.14,2.88" fill="#fff"/><polygon points="7.85,4.15 8.01,4.58 8.47,4.60 8.11,4.88 8.23,5.33 7.85,5.07 7.47,5.33 7.59,4.88 7.23,4.60 7.69,4.58" fill="#fff"/><polygon points="9.40,5.85 9.56,6.28 10.02,6.30 9.66,6.58 9.78,7.03 9.40,6.77 9.02,7.03 9.14,6.58 8.78,6.30 9.24,6.28" fill="#fff"/><polygon points="10.95,7.55 11.11,7.98 11.57,8.00 11.21,8.28 11.33,8.73 10.95,8.47 10.57,8.73 10.69,8.28 10.33,8.00 10.79,7.98" fill="#fff"/><polygon points="12.50,9.25 12.66,9.68 13.12,9.70 12.76,9.98 12.88,10.43 12.50,10.17 12.12,10.43 12.24,9.98 11.88,9.70 12.34,9.68" fill="#fff"/><polygon points="14.05,10.95 14.21,11.38 14.67,11.40 14.31,11.68 14.43,12.13 14.05,11.87 13.67,12.13 13.79,11.68 13.43,11.40 13.89,11.38" fill="#fff"/><polygon points="15.60,12.65 15.76,13.08 16.22,13.10 15.86,13.38 15.98,13.83 15.60,13.57 15.22,13.83 15.34,13.38 14.98,13.10 15.44,13.08" fill="#fff"/></g></symbol>
<symbol id="f-py" viewBox="0 0 16 16"><g clip-path="url(#cc)"><rect x="0" y="0.00" width="16" height="5.38" fill="#dc4252"/><rect x="0" y="5.33" width="16" height="5.38" fill="#fff"/><rect x="0" y="10.67" width="16" height="5.38" fill="#2f58a3"/><circle cx="8" cy="8" r="1.4" fill="#c08a3a"/></g></symbol>
<symbol id="f-vn" viewBox="0 0 16 16"><g clip-path="url(#cc)"><rect width="16" height="16" fill="#dc4252"/><polygon points="8.00,4.70 8.89,7.08 11.42,7.19 9.44,8.77 10.12,11.21 8.00,9.81 5.88,11.21 6.56,8.77 4.58,7.19 7.11,7.08" fill="#f5c534"/></g></symbol>
<symbol id="f-cr" viewBox="0 0 16 16"><g clip-path="url(#cc)"><rect x="0" y="0.00" width="16" height="2.72" fill="#2f58a3"/><rect x="0" y="2.67" width="16" height="2.72" fill="#fff"/><rect x="0" y="5.33" width="16" height="5.38" fill="#dc4252"/><rect x="0" y="10.67" width="16" height="2.72" fill="#fff"/><rect x="0" y="13.33" width="16" height="2.72" fill="#2f58a3"/></g></symbol>
<symbol id="f-hn" viewBox="0 0 16 16"><g clip-path="url(#cc)"><rect x="0" y="0.00" width="16" height="5.38" fill="#7ab6e6"/><rect x="0" y="5.33" width="16" height="5.38" fill="#fff"/><rect x="0" y="10.67" width="16" height="5.38" fill="#7ab6e6"/><circle cx="8" cy="8" r="0.5" fill="#7ab6e6"/><circle cx="5.5" cy="7" r="0.5" fill="#7ab6e6"/><circle cx="5.5" cy="9" r="0.5" fill="#7ab6e6"/><circle cx="10.5" cy="7" r="0.5" fill="#7ab6e6"/><circle cx="10.5" cy="9" r="0.5" fill="#7ab6e6"/></g></symbol>
<symbol id="f-by" viewBox="0 0 16 16"><g clip-path="url(#cc)"><rect x="0" y="0.00" width="16" height="10.72" fill="#dc4252"/><rect x="0" y="10.67" width="16" height="5.38" fill="#6aa84a"/><rect x="0" y="0" width="2.8" height="16" fill="#fff"/><rect x="0.6" y="1.0" width="1.6" height="1.2" fill="#dc4252"/><rect x="0.6" y="3.4" width="1.6" height="1.2" fill="#dc4252"/><rect x="0.6" y="5.8" width="1.6" height="1.2" fill="#dc4252"/><rect x="0.6" y="8.2" width="1.6" height="1.2" fill="#dc4252"/><rect x="0.6" y="10.6" width="1.6" height="1.2" fill="#dc4252"/><rect x="0.6" y="13.0" width="1.6" height="1.2" fill="#dc4252"/></g></symbol>
<symbol id="f-in" viewBox="0 0 16 16"><g clip-path="url(#cc)"><rect x="0" y="0.00" width="16" height="5.38" fill="#f2902c"/><rect x="0" y="5.33" width="16" height="5.38" fill="#fff"/><rect x="0" y="10.67" width="16" height="5.38" fill="#6aa84a"/><circle cx="8" cy="8" r="1.7" fill="#2a3f8a"/><circle cx="8" cy="8" r="1.1" fill="#fff"/></g></symbol>
<symbol id="f-ge" viewBox="0 0 16 16"><g clip-path="url(#cc)"><rect width="16" height="16" fill="#fff"/><rect x="6.4" y="0" width="3.2" height="16" fill="#dc4252"/><rect x="0" y="6.4" width="16" height="3.2" fill="#dc4252"/><rect x="3.2" y="2.4000000000000004" width="0.8" height="2.4" fill="#dc4252"/><rect x="2.4000000000000004" y="3.2" width="2.4" height="0.8" fill="#dc4252"/><rect x="12.0" y="2.4000000000000004" width="0.8" height="2.4" fill="#dc4252"/><rect x="11.200000000000001" y="3.2" width="2.4" height="0.8" fill="#dc4252"/><rect x="3.2" y="11.200000000000001" width="0.8" height="2.4" fill="#dc4252"/><rect x="2.4000000000000004" y="12.0" width="2.4" height="0.8" fill="#dc4252"/><rect x="12.0" y="11.200000000000001" width="0.8" height="2.4" fill="#dc4252"/><rect x="11.200000000000001" y="12.0" width="2.4" height="0.8" fill="#dc4252"/></g></symbol>
<symbol id="f-mk" viewBox="0 0 16 16"><g clip-path="url(#cc)"><rect width="16" height="16" fill="#d2352f"/><path d="M8,8 L19.91,6.54 L19.91,9.46Z" fill="#f5b82e"/><path d="M8,8 L17.46,15.39 L15.39,17.46Z" fill="#f5b82e"/><path d="M8,8 L9.46,19.91 L6.54,19.91Z" fill="#f5b82e"/><path d="M8,8 L0.61,17.46 L-1.46,15.39Z" fill="#f5b82e"/><path d="M8,8 L-3.91,9.46 L-3.91,6.54Z" fill="#f5b82e"/><path d="M8,8 L-1.46,0.61 L0.61,-1.46Z" fill="#f5b82e"/><path d="M8,8 L6.54,-3.91 L9.46,-3.91Z" fill="#f5b82e"/><path d="M8,8 L15.39,-1.46 L17.46,0.61Z" fill="#f5b82e"/><circle cx="8" cy="8" r="2.6" fill="#f5b82e"/><circle cx="8" cy="8" r="2.0" fill="#d2352f"/><circle cx="8" cy="8" r="1.6" fill="#f5b82e"/></g></symbol>
<symbol id="f-id" viewBox="0 0 16 16"><g clip-path="url(#cc)"><rect x="0" y="0.00" width="16" height="8.05" fill="#dc4252"/><rect x="0" y="8.00" width="16" height="8.05" fill="#fff"/></g></symbol>
<symbol id="f-ma" viewBox="0 0 16 16"><g clip-path="url(#cc)"><rect width="16" height="16" fill="#dc4252"/><path d="M8,4.6 L9.8,10 L5.2,6.6 L10.8,6.6 L6.2,10Z" fill="none" stroke="#2f7a3a" stroke-width="0.7"/></g></symbol>
<symbol id="f-gt" viewBox="0 0 16 16"><g clip-path="url(#cc)"><rect x="0.00" y="0" width="5.38" height="16" fill="#7ab6e6"/><rect x="5.33" y="0" width="5.38" height="16" fill="#fff"/><rect x="10.67" y="0" width="5.38" height="16" fill="#7ab6e6"/><circle cx="8" cy="8" r="1.5" fill="#8ab060"/></g></symbol>
<symbol id="f-tm" viewBox="0 0 16 16"><g clip-path="url(#cc)"><rect width="16" height="16" fill="#4e9b4a"/><rect x="2.4" y="0" width="3" height="16" fill="#b83a3a"/><circle cx="9" cy="5" r="1.8" fill="#fff"/><circle cx="9.8" cy="5" r="1.4400000000000002" fill="#4e9b4a"/></g></symbol>
<symbol id="f-dz" viewBox="0 0 16 16"><g clip-path="url(#cc)"><rect x="0.00" y="0" width="8.05" height="16" fill="#5fa84e"/><rect x="8.00" y="0" width="8.05" height="16" fill="#fff"/><circle cx="8.4" cy="8" r="3.4" fill="#dc4252"/><circle cx="9.6" cy="8" r="2.72" fill="#fff"/><polygon points="10.20,6.80 10.50,7.59 11.34,7.63 10.68,8.16 10.91,8.97 10.20,8.50 9.49,8.97 9.72,8.16 9.06,7.63 9.90,7.59" fill="#dc4252"/></g></symbol>
<symbol id="f-eg" viewBox="0 0 16 16"><g clip-path="url(#cc)"><rect x="0" y="0.00" width="16" height="5.38" fill="#dc4252"/><rect x="0" y="5.33" width="16" height="5.38" fill="#fff"/><rect x="0" y="10.67" width="16" height="5.38" fill="#2e2e2e"/><rect x="7" y="6.4" width="2" height="3.2" fill="#c99a3a"/></g></symbol>
<symbol id="f-ci" viewBox="0 0 16 16"><g clip-path="url(#cc)"><rect x="0.00" y="0" width="5.38" height="16" fill="#f2902c"/><rect x="5.33" y="0" width="5.38" height="16" fill="#fff"/><rect x="10.67" y="0" width="5.38" height="16" fill="#5fa84e"/></g></symbol>
<symbol id="f-ph" viewBox="0 0 16 16"><g clip-path="url(#cc)"><rect x="0" y="0.00" width="16" height="8.05" fill="#2f58a3"/><rect x="0" y="8.00" width="16" height="8.05" fill="#dc4252"/><polygon points="0,0 9.5,8 0,16" fill="#fff"/><circle cx="3.2" cy="8" r="1.5" fill="#f5c534"/></g></symbol>
<symbol id="f-gh" viewBox="0 0 16 16"><g clip-path="url(#cc)"><rect x="0" y="0.00" width="16" height="5.38" fill="#dc4252"/><rect x="0" y="5.33" width="16" height="5.38" fill="#f5c534"/><rect x="0" y="10.67" width="16" height="5.38" fill="#5fa84e"/><polygon points="8.00,6.20 8.52,7.59 10.00,7.65 8.84,8.57 9.23,10.00 8.00,9.18 6.77,10.00 7.16,8.57 6.00,7.65 7.48,7.59" fill="#2e2e2e"/></g></symbol>
<symbol id="f-pk" viewBox="0 0 16 16"><g clip-path="url(#cc)"><rect x="0.00" y="0" width="4.05" height="16" fill="#fff"/><rect x="4.00" y="0" width="12.05" height="16" fill="#2e7d3a"/><circle cx="10.4" cy="8.4" r="3.2" fill="#fff"/><circle cx="11.6" cy="8.4" r="2.5600000000000005" fill="#2e7d3a"/><polygon points="12.00,5.40 12.25,6.06 12.95,6.09 12.40,6.53 12.59,7.21 12.00,6.82 11.41,7.21 11.60,6.53 11.05,6.09 11.75,6.06" fill="#fff"/></g></symbol>
<symbol id="f-md" viewBox="0 0 16 16"><g clip-path="url(#cc)"><rect x="0.00" y="0" width="5.38" height="16" fill="#2f58a3"/><rect x="5.33" y="0" width="5.38" height="16" fill="#f5c534"/><rect x="10.67" y="0" width="5.38" height="16" fill="#dc4252"/><rect x="7" y="6" width="2" height="4" fill="#9a6a3a"/></g></symbol>
<symbol id="f-et" viewBox="0 0 16 16"><g clip-path="url(#cc)"><rect x="0" y="0.00" width="16" height="5.38" fill="#5fa84e"/><rect x="0" y="5.33" width="16" height="5.38" fill="#f5c534"/><rect x="0" y="10.67" width="16" height="5.38" fill="#dc4252"/><circle cx="8" cy="8" r="2.6" fill="#2f58a3"/><polygon points="8.00,6.20 8.44,7.39 9.71,7.44 8.72,8.23 9.06,9.46 8.00,8.76 6.94,9.46 7.28,8.23 6.29,7.44 7.56,7.39" fill="#f5c534"/></g></symbol>
<symbol id="f-ua" viewBox="0 0 16 16"><g clip-path="url(#cc)"><rect x="0" y="0.00" width="16" height="8.05" fill="#2f63b8"/><rect x="0" y="8.00" width="16" height="8.05" fill="#f5c534"/></g></symbol>
<symbol id="f-kh" viewBox="0 0 16 16"><g clip-path="url(#cc)"><rect x="0" y="0.00" width="16" height="4.05" fill="#2f58a3"/><rect x="0" y="4.00" width="16" height="8.05" fill="#dc4252"/><rect x="0" y="12.00" width="16" height="4.05" fill="#2f58a3"/><polygon points="4,10.4 5,8 6,8 6.5,6.4 7.2,6.4 8,4.6 8.8,6.4 9.5,6.4 10,8 11,8 12,10.4" fill="#fff"/></g></symbol>
<symbol id="f-az" viewBox="0 0 16 16"><g clip-path="url(#cc)"><rect x="0" y="0.00" width="16" height="5.38" fill="#3a9ad5"/><rect x="0" y="5.33" width="16" height="5.38" fill="#dc4252"/><rect x="0" y="10.67" width="16" height="5.38" fill="#5fa84e"/><circle cx="7.4" cy="8" r="2.1" fill="#fff"/><circle cx="8.200000000000001" cy="8" r="1.6800000000000002" fill="#dc4252"/><polygon points="9.60,7.10 9.82,7.69 10.46,7.72 9.96,8.12 10.13,8.73 9.60,8.38 9.07,8.73 9.24,8.12 8.74,7.72 9.38,7.69" fill="#fff"/></g></symbol>
<symbol id="f-ug" viewBox="0 0 16 16"><g clip-path="url(#cc)"><rect x="0" y="0.00" width="16" height="2.72" fill="#2e2e2e"/><rect x="0" y="2.67" width="16" height="2.72" fill="#f5c534"/><rect x="0" y="5.33" width="16" height="2.72" fill="#dc4252"/><rect x="0" y="8.00" width="16" height="2.72" fill="#2e2e2e"/><rect x="0" y="10.67" width="16" height="2.72" fill="#f5c534"/><rect x="0" y="13.33" width="16" height="2.72" fill="#dc4252"/><circle cx="8" cy="8" r="2.6" fill="#fff"/><rect x="7.3" y="6.4" width="1.4" height="3.2" fill="#2e2e2e"/></g></symbol>
<symbol id="f-cm" viewBox="0 0 16 16"><g clip-path="url(#cc)"><rect x="0.00" y="0" width="5.38" height="16" fill="#5fa84e"/><rect x="5.33" y="0" width="5.38" height="16" fill="#dc4252"/><rect x="10.67" y="0" width="5.38" height="16" fill="#f5c534"/><polygon points="8.00,6.20 8.44,7.39 9.71,7.44 8.72,8.23 9.06,9.46 8.00,8.76 6.94,9.46 7.28,8.23 6.29,7.44 7.56,7.39" fill="#f5c534"/></g></symbol>
<symbol id="f-uz" viewBox="0 0 16 16"><g clip-path="url(#cc)"><rect x="0" y="0.00" width="16" height="5.38" fill="#3aa0d8"/><rect x="0" y="5.33" width="16" height="0.48" fill="#dc4252"/><rect x="0" y="5.76" width="16" height="4.53" fill="#fff"/><rect x="0" y="10.24" width="16" height="0.48" fill="#dc4252"/><rect x="0" y="10.67" width="16" height="5.38" fill="#5fa84e"/><circle cx="3" cy="3" r="1.5" fill="#fff"/><circle cx="3.7" cy="3" r="1.2000000000000002" fill="#3aa0d8"/></g></symbol>
<symbol id="f-kz" viewBox="0 0 16 16"><g clip-path="url(#cc)"><rect width="16" height="16" fill="#2fb0cf"/><circle cx="8.6" cy="7" r="2.4" fill="#f5c534"/><rect x="1" y="1" width="1.4" height="14" fill="#f5c534"/><rect x="5.6" y="10.6" width="6" height="1.2" fill="#f5c534"/></g></symbol>
<symbol id="f-ao" viewBox="0 0 16 16"><g clip-path="url(#cc)"><rect x="0" y="0.00" width="16" height="8.05" fill="#dc4252"/><rect x="0" y="8.00" width="16" height="8.05" fill="#2e2e2e"/><path d="M5.4,10.8 Q8,12.4 10.4,9.4 Q11.4,7 9.4,5.6" stroke="#f5c534" stroke-width="1.1" fill="none"/><polygon points="5.6,6.6 10.8,11.2 10,11.8 5,7.2" fill="#f5c534"/><polygon points="7.40,6.70 7.62,7.29 8.26,7.32 7.76,7.72 7.93,8.33 7.40,7.98 6.87,8.33 7.04,7.72 6.54,7.32 7.18,7.29" fill="#f5c534"/></g></symbol>
<symbol id="f-la" viewBox="0 0 16 16"><g clip-path="url(#cc)"><rect x="0" y="0.00" width="16" height="4.05" fill="#dc4252"/><rect x="0" y="4.00" width="16" height="8.05" fill="#2a3f8f"/><rect x="0" y="12.00" width="16" height="4.05" fill="#dc4252"/><circle cx="8" cy="8" r="2.6" fill="#fff"/></g></symbol>
<symbol id="f-bd" viewBox="0 0 16 16"><g clip-path="url(#cc)"><rect width="16" height="16" fill="#58a048"/><circle cx="7" cy="8" r="3.6" fill="#dc4252"/></g></symbol>
<symbol id="f-ke" viewBox="0 0 16 16"><g clip-path="url(#cc)"><rect x="0" y="0.00" width="16" height="4.65" fill="#2e2e2e"/><rect x="0" y="4.60" width="16" height="0.75" fill="#fff"/><rect x="0" y="5.30" width="16" height="5.45" fill="#dc4252"/><rect x="0" y="10.70" width="16" height="0.75" fill="#fff"/><rect x="0" y="11.40" width="16" height="4.65" fill="#58a048"/><ellipse cx="8" cy="8" rx="2" ry="4.4" fill="#dc4252"/><ellipse cx="8" cy="8" rx="0.8" ry="3.2" fill="#2e2e2e"/></g></symbol>
<symbol id="f-mm" viewBox="0 0 16 16"><g clip-path="url(#cc)"><rect x="0" y="0.00" width="16" height="5.38" fill="#f5c534"/><rect x="0" y="5.33" width="16" height="5.38" fill="#5fa84e"/><rect x="0" y="10.67" width="16" height="5.38" fill="#dc4252"/><polygon points="8.00,3.20 9.28,6.63 12.95,6.79 10.08,9.07 11.06,12.61 8.00,10.58 4.94,12.61 5.92,9.07 3.05,6.79 6.72,6.63" fill="#fff"/></g></symbol>
<symbol id="f-ng" viewBox="0 0 16 16"><g clip-path="url(#cc)"><rect x="0.00" y="0" width="5.38" height="16" fill="#5fa84e"/><rect x="5.33" y="0" width="5.38" height="16" fill="#fff"/><rect x="10.67" y="0" width="5.38" height="16" fill="#5fa84e"/></g></symbol>
</defs></svg>
<div class="hd">
<div class="tt" style="top:41.65px;transform:scaleX(1.131)">СКОЛЬКО ДЕНЕГ ТРАТЯТ</div>
<div class="tt" style="top:70.15px;transform:scaleX(1.149)">НА ЕДУ В РАЗНЫХ СТРАНАХ</div>
<svg width="272" height="132" viewBox="460 0 272 132" style="position:absolute;left:460px;top:0">
<!-- leaves behind paper bag -->
<path d="M480,20 Q497,30 508,60 Q493,36 480,20Z" fill="#3f8f3c"/>
<path d="M527,9 Q518,28 513,60 L510,60 Q516,30 527,9Z" fill="#4a9a40"/>
<path d="M502,23 Q508,40 511,60 L508,60 Q505,40 502,23Z" fill="#3a8a38"/>
<path d="M522,30 Q514,44 512,60 L516,60 Q517,44 522,30Z" fill="#2f7a34"/>
<!-- small bottle -->
<rect x="491" y="46" width="11" height="14" fill="#5e9a48"/>
<rect x="491.5" y="42.5" width="10" height="5" fill="#efe8dc"/>
<rect x="491.5" y="32.5" width="10" height="10.5" rx="3" fill="#d0283a"/>
<!-- big bottle -->
<path d="M531,23 L540,23 L541,33 Q548,40 548,50 L548,66 L515,66 L515,50 Q515,40 530,33 Z" fill="#dfc4b4"/>
<path d="M515,42 Q520,38 530,40 L548,42 L548,66 L515,66Z" fill="#6e2f16"/>
<path d="M518,46 Q521,43 526,44 L524,66 L518,66Z" fill="#a2532a"/>
<rect x="528.8" y="14.3" width="12.5" height="9" rx="2.5" fill="#d0283a"/>
<!-- fern -->
<path d="M553,18 L555,56" stroke="#2f6e2c" stroke-width="1.4"/>
<g fill="#3a7d34">
<ellipse cx="550" cy="24" rx="4" ry="1.6" transform="rotate(-25 550 24)"/><ellipse cx="557.5" cy="24" rx="4" ry="1.6" transform="rotate(25 557.5 24)"/>
<ellipse cx="549.5" cy="30" rx="5" ry="1.8" transform="rotate(-25 549.5 30)"/><ellipse cx="558.5" cy="30" rx="5" ry="1.8" transform="rotate(25 558.5 30)"/>
<ellipse cx="549.5" cy="36" rx="5.5" ry="1.9" transform="rotate(-25 549.5 36)"/><ellipse cx="559" cy="36" rx="5.5" ry="1.9" transform="rotate(25 559 36)"/>
<ellipse cx="549.5" cy="42" rx="5.5" ry="1.9" transform="rotate(-25 549.5 42)"/><ellipse cx="559" cy="42" rx="5.5" ry="1.9" transform="rotate(25 559 42)"/>
<ellipse cx="550" cy="48" rx="5" ry="1.8" transform="rotate(-25 550 48)"/><ellipse cx="559" cy="48" rx="5" ry="1.8" transform="rotate(25 559 48)"/>
</g>
<!-- right fern -->
<path d="M588,28 Q600,40 597,62 L580,62 Q582,44 588,28Z" fill="#4c9a3e"/>
<!-- baguette -->
<ellipse cx="573" cy="37" rx="11.5" ry="30" transform="rotate(30 573 37)" fill="#ef8a2c"/>
<path d="M566,52 Q572,34 584,16" stroke="#f6a552" stroke-width="2" fill="none"/>
<path d="M561,56 Q566,40 576,22" stroke="#f6a552" stroke-width="1.5" fill="none"/>
<!-- banana + veg -->
<path d="M530,60 Q536,50 550,50 Q560,52 566,60 L562,70 L532,70Z" fill="#f2c22e"/>
<path d="M536,66 Q546,54 560,57" stroke="#d6a41c" stroke-width="1.2" fill="none"/>
<ellipse cx="557" cy="64.5" rx="11" ry="7" transform="rotate(-20 557 64.5)" fill="#4f9a38"/>
<!-- paper bag -->
<polygon points="480,63.5 568,69 568,132 471,132" fill="#d6b99d"/>
<polygon points="568,69 597,63 597,100 569,83" fill="#b99b84"/>
<polygon points="569,83 597,100 597,132 568,132" fill="#9b7f69"/>
<path d="M541.5,79 Q535,106 528,132" stroke="#1a1a1a" stroke-width="3.6" fill="none" stroke-linecap="round"/>
<circle cx="541.5" cy="78.5" r="2.4" fill="#1a1a1a"/>
<!-- receipt 1 -->
<g transform="translate(484 53) rotate(4)">
<rect x="0" y="0" width="39" height="71" rx="1.5" fill="#f2f2ef"/>
<rect x="12.5" y="7" width="14.0" height="1.8" fill="#a8a8a8"/><rect x="10.1" y="10" width="18.7" height="1.2" fill="#b8b8b8"/><rect x="4" y="16" width="8.6" height="2.2" fill="#555"/><rect x="21.5" y="16" width="13.6" height="2.2" fill="#555"/><rect x="4" y="21" width="31" height="2.4" fill="#4a4a4a"/><rect x="4" y="26" width="20.5" height="1.4" fill="#8a8a8a"/><rect x="27.6" y="26" width="7.4" height="1.4" fill="#8a8a8a"/><rect x="4" y="29" width="20.5" height="1.4" fill="#8a8a8a"/><rect x="27.6" y="29" width="7.4" height="1.4" fill="#8a8a8a"/><rect x="4" y="32" width="20.5" height="1.4" fill="#8a8a8a"/><rect x="27.6" y="32" width="7.4" height="1.4" fill="#8a8a8a"/><rect x="4" y="35" width="20.5" height="1.4" fill="#8a8a8a"/><rect x="27.6" y="35" width="7.4" height="1.4" fill="#8a8a8a"/><rect x="4" y="38" width="20.5" height="1.4" fill="#8a8a8a"/><rect x="27.6" y="38" width="7.4" height="1.4" fill="#8a8a8a"/><rect x="4" y="41" width="20.5" height="1.4" fill="#8a8a8a"/><rect x="27.6" y="41" width="7.4" height="1.4" fill="#8a8a8a"/><rect x="4" y="44" width="20.5" height="1.4" fill="#8a8a8a"/><rect x="27.6" y="44" width="7.4" height="1.4" fill="#8a8a8a"/><rect x="4" y="47" width="20.5" height="1.4" fill="#8a8a8a"/><rect x="27.6" y="47" width="7.4" height="1.4" fill="#8a8a8a"/><rect x="4" y="52" width="31" height="2.4" fill="#4a4a4a"/><rect x="4" y="57" width="15.5" height="1.2" fill="#999"/><rect x="4" y="61" width="31" height="3" fill="#555"/>
</g>
<rect x="521.5" y="55" width="9" height="13" rx="3" fill="#bdbdb8"/>
<polygon points="471,123 521,125 520,132 470,132" fill="#d2d2ce"/>
<!-- tote handle back -->
<path d="M641,74 L632,26 Q631,12 638,10" stroke="#bdb6ab" stroke-width="6" fill="none"/>
<!-- tote contents -->
<polygon points="613,100 640,62 664,52 700,50 718,29 732,44 732,72 611,103" fill="#d6d0c6"/>
<polygon points="700,56 718,29 732,44 732,90 700,90" fill="#e4dfd6"/>
<ellipse cx="688.4" cy="23.4" rx="19.5" ry="14" fill="#f2a81d"/>
<ellipse cx="678" cy="8.5" rx="3" ry="5" fill="#3f8a3a"/>
<ellipse cx="708" cy="21" rx="5.5" ry="10" transform="rotate(-15 708 21)" fill="#4a9a3a"/>
<path d="M686,36 Q694,30 703,35 L701,48 Q692,51 686,45Z" fill="#d42a3a"/>
<path d="M690,33 Q690,28 694,28" stroke="#3f8a3a" stroke-width="1.6" fill="none"/>
<path d="M700,37 L716,34 L718,52 L703,55Z" fill="#8a4a2a"/>

<g transform="rotate(24 660 58)"><rect x="650" y="31" width="20" height="54" rx="3" fill="#262626"/></g>
<ellipse cx="671" cy="61.5" rx="11" ry="9.5" fill="#e2646a"/>
<ellipse cx="669" cy="62" rx="6" ry="5" fill="#f3aaa4"/>
<path d="M654,88 L629,30" stroke="#e1dcd3" stroke-width="9" fill="none"/>
<path d="M614,62 Q626,52 640,58 L646,80 L640,100 L616,98Z" fill="#4f9a3c"/>
<!-- wine bottle -->
<g transform="translate(600 49) rotate(-37)">
<rect x="-4.6" y="-1" width="9.2" height="28" rx="2" fill="#2a2427"/>
<rect x="-4.9" y="3" width="9.8" height="18" fill="#c73a2e"/>
<rect x="-13.5" y="23" width="27" height="58" rx="8" fill="#2d2629"/>
<rect x="-10" y="30" width="4.5" height="34" rx="2" fill="#55505a"/>
<rect x="5" y="30" width="4.5" height="20" rx="2" fill="#55505a"/>
<rect x="-13.5" y="60" width="27" height="7" fill="#f0c43a"/>
<rect x="-13.5" y="67" width="27" height="8" fill="#c73a2e"/>
</g>
<ellipse cx="616" cy="96" rx="7" ry="5.5" fill="#4a9a3a"/>
<ellipse cx="622" cy="101" rx="5" ry="4" fill="#9a5a2a"/>
<ellipse cx="646" cy="90" rx="10" ry="8" fill="#4fa03c"/>
<!-- tote body -->
<polygon points="611,103 732,69 732,132 619,132" fill="#ebe7df"/>
<polygon points="611,103 732,69 732,73 613,108" fill="#dcd6cc"/>
<polygon points="612,110 640,132 619,132" fill="#dcd6cc"/>
<!-- tote handle front -->
<path d="M629,30 Q627,4 640,3 Q652,3 660,16 L690,60" stroke="#e8e4dc" stroke-width="9.5" fill="none"/>
<!-- receipt 2 -->
<g transform="translate(667.6 71.8) rotate(-34)">
<rect x="0" y="0" width="38" height="84" rx="1.5" fill="#f4f4f1"/>
<rect x="12.2" y="7" width="13.7" height="1.8" fill="#a8a8a8"/><rect x="9.9" y="10" width="18.2" height="1.2" fill="#b8b8b8"/><rect x="4" y="16" width="8.4" height="2.2" fill="#555"/><rect x="20.9" y="16" width="13.3" height="2.2" fill="#555"/><rect x="4" y="21" width="30" height="2.4" fill="#4a4a4a"/><rect x="4" y="26" width="19.8" height="1.4" fill="#8a8a8a"/><rect x="26.8" y="26" width="7.2" height="1.4" fill="#8a8a8a"/><rect x="4" y="29" width="19.8" height="1.4" fill="#8a8a8a"/><rect x="26.8" y="29" width="7.2" height="1.4" fill="#8a8a8a"/><rect x="4" y="32" width="19.8" height="1.4" fill="#8a8a8a"/><rect x="26.8" y="32" width="7.2" height="1.4" fill="#8a8a8a"/><rect x="4" y="35" width="19.8" height="1.4" fill="#8a8a8a"/><rect x="26.8" y="35" width="7.2" height="1.4" fill="#8a8a8a"/><rect x="4" y="38" width="19.8" height="1.4" fill="#8a8a8a"/><rect x="26.8" y="38" width="7.2" height="1.4" fill="#8a8a8a"/><rect x="4" y="41" width="19.8" height="1.4" fill="#8a8a8a"/><rect x="26.8" y="41" width="7.2" height="1.4" fill="#8a8a8a"/><rect x="4" y="44" width="19.8" height="1.4" fill="#8a8a8a"/><rect x="26.8" y="44" width="7.2" height="1.4" fill="#8a8a8a"/><rect x="4" y="47" width="19.8" height="1.4" fill="#8a8a8a"/><rect x="26.8" y="47" width="7.2" height="1.4" fill="#8a8a8a"/><rect x="4" y="52" width="30" height="2.4" fill="#4a4a4a"/><rect x="4" y="57" width="15.0" height="1.2" fill="#999"/><rect x="4" y="61" width="30" height="3" fill="#555"/>
</g>
<rect x="0" y="0" width="0" height="0"/>
</svg>
</div>
<svg style="position:absolute;left:36px;top:164.5px" width="17" height="17" viewBox="0 0 17 17">
<circle cx="8.4" cy="8.1" r="7.5" fill="none" stroke="#262626" stroke-width="1.2"/>
<path d="M2.4,4.8 Q3.5,1.6 7.8,1.0 L7.3,3.3 Q5.6,3.6 5.4,5.2 L4.6,6.3 Q3.3,6 2.4,4.8Z" fill="#262626"/>
<path d="M5,7.3 Q7.6,6.6 9.7,8.6 Q9.5,11 7.9,12.4 L6.8,14.4 Q6.3,11.6 5.6,10.4 Q4.5,9 5,7.3Z" fill="#262626"/>
<path d="M11.6,1.4 Q15.9,3.2 16.2,8 Q15.9,11.2 14.1,12.8 Q13.8,10.4 12.4,9.6 Q11.7,7.6 12.6,6 Q11.2,4.2 11.6,1.4Z" fill="#262626"/>
</svg>
<div class="hc" style="left:57.3px;top:164.68px">Страна</div>
<div class="hc" style="left:193.2px;top:165.18px">Процент*</div>
<svg class="fl" style="left:37.0px;top:198.00px"><use href="#f-us"/></svg>
<div class="nm" style="left:57.3px;top:199.28px"><span>США</span></div>
<div class="tr" style="left:193.2px;top:199.45px;width:171.6px"></div>
<div class="br" style="left:193.2px;top:199.45px;width:19.66px"></div>
<div class="lb" style="left:219.50px;top:201.20px">6,7%</div>
<svg class="fl" style="left:37.0px;top:220.68px"><use href="#f-sg"/></svg>
<div class="nm" style="left:57.3px;top:221.96px"><span>Сингапур</span></div>
<div class="tr" style="left:193.2px;top:222.13px;width:171.6px"></div>
<div class="br" style="left:193.2px;top:222.13px;width:24.65px"></div>
<div class="lb" style="left:224.83px;top:223.88px">8,4%</div>
<svg class="fl" style="left:37.0px;top:243.36px"><use href="#f-gb"/></svg>
<div class="nm" style="left:57.3px;top:244.64px"><span>Великобритания</span></div>
<div class="tr" style="left:193.2px;top:244.81px;width:171.6px"></div>
<div class="br" style="left:193.2px;top:244.81px;width:25.53px"></div>
<div class="lb" style="left:225.77px;top:246.56px">8,7%</div>
<svg class="fl" style="left:37.0px;top:266.04px"><use href="#f-ie"/></svg>
<div class="nm" style="left:57.3px;top:267.32px"><span>Ирландия</span></div>
<div class="tr" style="left:193.2px;top:267.49px;width:171.6px"></div>
<div class="br" style="left:193.2px;top:267.49px;width:27.00px"></div>
<div class="lb" style="left:227.34px;top:269.24px">9,2%</div>
<svg class="fl" style="left:37.0px;top:288.72px"><use href="#f-ch"/></svg>
<div class="nm" style="left:57.3px;top:290.00px"><span>Швейцария</span></div>
<div class="tr" style="left:193.2px;top:290.17px;width:171.6px"></div>
<div class="br" style="left:193.2px;top:290.17px;width:29.06px"></div>
<div class="lb" style="left:229.54px;top:291.92px">9,9%</div>
<svg class="fl" style="left:37.0px;top:311.40px"><use href="#f-au"/></svg>
<div class="nm" style="left:57.3px;top:312.68px"><span>Австралия</span></div>
<div class="tr" style="left:193.2px;top:312.85px;width:171.6px"></div>
<div class="br" style="left:193.2px;top:312.85px;width:29.35px"></div>
<div class="lb" style="left:229.85px;top:314.60px">10%</div>
<svg class="fl" style="left:37.0px;top:334.08px"><use href="#f-ca"/></svg>
<div class="nm" style="left:57.3px;top:335.36px"><span>Канада</span></div>
<div class="tr" style="left:193.2px;top:335.53px;width:171.6px"></div>
<div class="br" style="left:193.2px;top:335.53px;width:29.35px"></div>
<div class="lb" style="left:229.85px;top:337.28px">10%</div>
<svg class="fl" style="left:37.0px;top:356.76px"><use href="#f-at"/></svg>
<div class="nm" style="left:57.3px;top:358.04px"><span>Австрия</span></div>
<div class="tr" style="left:193.2px;top:358.21px;width:171.6px"></div>
<div class="br" style="left:193.2px;top:358.21px;width:33.17px"></div>
<div class="lb" style="left:233.93px;top:359.96px">11,3%</div>
<svg class="fl" style="left:37.0px;top:379.44px"><use href="#f-fi"/></svg>
<div class="nm" style="left:57.3px;top:380.72px"><span>Финляндия</span></div>
<div class="tr" style="left:193.2px;top:380.89px;width:171.6px"></div>
<div class="br" style="left:193.2px;top:380.89px;width:35.22px"></div>
<div class="lb" style="left:236.12px;top:382.64px">12%</div>
<svg class="fl" style="left:37.0px;top:402.12px"><use href="#f-de"/></svg>
<div class="nm" style="left:57.3px;top:403.40px"><span>Германия</span></div>
<div class="tr" style="left:193.2px;top:403.57px;width:171.6px"></div>
<div class="br" style="left:193.2px;top:403.57px;width:35.22px"></div>
<div class="lb" style="left:236.12px;top:405.32px">12%</div>
<svg class="fl" style="left:37.0px;top:424.80px"><use href="#f-hk"/></svg>
<div class="nm" style="left:57.3px;top:426.08px"><span>Гонконг</span></div>
<div class="tr" style="left:193.2px;top:426.25px;width:171.6px"></div>
<div class="br" style="left:193.2px;top:426.25px;width:35.51px"></div>
<div class="lb" style="left:236.43px;top:428.00px">12,1%</div>
<svg class="fl" style="left:37.0px;top:447.48px"><use href="#f-nl"/></svg>
<div class="nm" style="left:57.3px;top:448.76px"><span>Нидерланды</span></div>
<div class="tr" style="left:193.2px;top:448.93px;width:171.6px"></div>
<div class="br" style="left:193.2px;top:448.93px;width:35.51px"></div>
<div class="lb" style="left:236.43px;top:450.68px">12,1%</div>
<svg class="fl" style="left:37.0px;top:470.16px"><use href="#f-nz"/></svg>
<div class="nm" style="left:57.3px;top:471.44px"><span>Новая Зеландия</span></div>
<div class="tr" style="left:193.2px;top:471.61px;width:171.6px"></div>
<div class="br" style="left:193.2px;top:471.61px;width:35.81px"></div>
<div class="lb" style="left:236.75px;top:473.36px">12,2%</div>
<svg class="fl" style="left:37.0px;top:492.84px"><use href="#f-dk"/></svg>
<div class="nm" style="left:57.3px;top:494.12px"><span>Дания</span></div>
<div class="tr" style="left:193.2px;top:494.29px;width:171.6px"></div>
<div class="br" style="left:193.2px;top:494.29px;width:36.10px"></div>
<div class="lb" style="left:237.06px;top:496.04px">12,3%</div>
<svg class="fl" style="left:37.0px;top:515.52px"><use href="#f-qa"/></svg>
<div class="nm" style="left:57.3px;top:516.80px"><span>Катар</span></div>
<div class="tr" style="left:193.2px;top:516.97px;width:171.6px"></div>
<div class="br" style="left:193.2px;top:516.97px;width:36.10px"></div>
<div class="lb" style="left:237.06px;top:518.72px">12,3%</div>
<svg class="fl" style="left:37.0px;top:538.20px"><use href="#f-no"/></svg>
<div class="nm" style="left:57.3px;top:539.48px"><span>Норвегия</span></div>
<div class="tr" style="left:193.2px;top:539.65px;width:171.6px"></div>
<div class="br" style="left:193.2px;top:539.65px;width:36.69px"></div>
<div class="lb" style="left:237.69px;top:541.40px">12,5%</div>
<svg class="fl" style="left:37.0px;top:560.88px"><use href="#f-se"/></svg>
<div class="nm" style="left:57.3px;top:562.16px"><span>Швеция</span></div>
<div class="tr" style="left:193.2px;top:562.33px;width:171.6px"></div>
<div class="br" style="left:193.2px;top:562.33px;width:37.27px"></div>
<div class="lb" style="left:238.31px;top:564.08px">12,7%</div>
<svg class="fl" style="left:37.0px;top:583.56px"><use href="#f-kr"/></svg>
<div class="nm" style="left:57.3px;top:584.84px"><span>Южная Корея</span></div>
<div class="tr" style="left:193.2px;top:585.01px;width:171.6px"></div>
<div class="br" style="left:193.2px;top:585.01px;width:37.57px"></div>
<div class="lb" style="left:238.63px;top:586.76px">12,8%</div>
<svg class="fl" style="left:37.0px;top:606.24px"><use href="#f-es"/></svg>
<div class="nm" style="left:57.3px;top:607.52px"><span>Испания</span></div>
<div class="tr" style="left:193.2px;top:607.69px;width:171.6px"></div>
<div class="br" style="left:193.2px;top:607.69px;width:38.45px"></div>
<div class="lb" style="left:239.57px;top:609.44px">13,1%</div>
<svg class="fl" style="left:37.0px;top:628.92px"><use href="#f-bh"/></svg>
<div class="nm" style="left:57.3px;top:630.20px"><span>Бахрейн</span></div>
<div class="tr" style="left:193.2px;top:630.37px;width:171.6px"></div>
<div class="br" style="left:193.2px;top:630.37px;width:38.45px"></div>
<div class="lb" style="left:239.57px;top:632.12px">13,1%</div>
<svg class="fl" style="left:37.0px;top:651.60px"><use href="#f-tw"/></svg>
<div class="nm" style="left:57.3px;top:652.88px"><span>Тайвань</span></div>
<div class="tr" style="left:193.2px;top:653.05px;width:171.6px"></div>
<div class="br" style="left:193.2px;top:653.05px;width:39.04px"></div>
<div class="lb" style="left:240.20px;top:654.80px">13,3%</div>
<svg class="fl" style="left:37.0px;top:674.28px"><use href="#f-be"/></svg>
<div class="nm" style="left:57.3px;top:675.56px"><span>Бельгия</span></div>
<div class="tr" style="left:193.2px;top:675.73px;width:171.6px"></div>
<div class="br" style="left:193.2px;top:675.73px;width:39.62px"></div>
<div class="lb" style="left:240.82px;top:677.48px">13,5%</div>
<svg class="fl" style="left:37.0px;top:696.96px"><use href="#f-ae"/></svg>
<div class="nm" style="left:57.3px;top:698.24px"><span>ОАЭ</span></div>
<div class="tr" style="left:193.2px;top:698.41px;width:171.6px"></div>
<div class="br" style="left:193.2px;top:698.41px;width:39.92px"></div>
<div class="lb" style="left:241.14px;top:700.16px">13,6%</div>
<svg class="fl" style="left:37.0px;top:719.64px"><use href="#f-fr"/></svg>
<div class="nm" style="left:57.3px;top:720.92px"><span>Франция</span></div>
<div class="tr" style="left:193.2px;top:721.09px;width:171.6px"></div>
<div class="br" style="left:193.2px;top:721.09px;width:41.38px"></div>
<div class="lb" style="left:242.70px;top:722.84px">14,1%</div>
<svg class="fl" style="left:37.0px;top:742.32px"><use href="#f-si"/></svg>
<div class="nm" style="left:57.3px;top:743.60px"><span>Словения</span></div>
<div class="tr" style="left:193.2px;top:743.77px;width:171.6px"></div>
<div class="br" style="left:193.2px;top:743.77px;width:43.73px"></div>
<div class="lb" style="left:245.21px;top:745.52px">14,9%</div>
<svg class="fl" style="left:37.0px;top:765.00px"><use href="#f-it"/></svg>
<div class="nm" style="left:57.3px;top:766.28px"><span>Италия</span></div>
<div class="tr" style="left:193.2px;top:766.45px;width:171.6px"></div>
<div class="br" style="left:193.2px;top:766.45px;width:45.49px"></div>
<div class="lb" style="left:247.09px;top:768.20px">15,5%</div>
<svg class="fl" style="left:37.0px;top:787.68px"><use href="#f-pa"/></svg>
<div class="nm" style="left:57.3px;top:788.96px"><span>Панама</span></div>
<div class="tr" style="left:193.2px;top:789.13px;width:171.6px"></div>
<div class="br" style="left:193.2px;top:789.13px;width:46.08px"></div>
<div class="lb" style="left:247.72px;top:790.88px">15,7%</div>
<svg class="fl" style="left:37.0px;top:810.36px"><use href="#f-il"/></svg>
<div class="nm" style="left:57.3px;top:811.64px"><span>Израиль</span></div>
<div class="tr" style="left:193.2px;top:811.81px;width:171.6px"></div>
<div class="br" style="left:193.2px;top:811.81px;width:46.96px"></div>
<div class="lb" style="left:248.66px;top:813.56px">16%</div>
<svg class="fl" style="left:37.0px;top:833.04px"><use href="#f-cz"/></svg>
<div class="nm" style="left:57.3px;top:834.32px"><span>Чехия</span></div>
<div class="tr" style="left:193.2px;top:834.49px;width:171.6px"></div>
<div class="br" style="left:193.2px;top:834.49px;width:47.25px"></div>
<div class="lb" style="left:248.97px;top:836.24px">16,1%</div>
<svg class="fl" style="left:37.0px;top:855.72px"><use href="#f-br"/></svg>
<div class="nm" style="left:57.3px;top:857.00px"><span>Бразилия</span></div>
<div class="tr" style="left:193.2px;top:857.17px;width:171.6px"></div>
<div class="br" style="left:193.2px;top:857.17px;width:47.84px"></div>
<div class="lb" style="left:249.60px;top:858.92px">16,3%</div>
<svg class="fl" style="left:37.0px;top:878.40px"><use href="#f-jp"/></svg>
<div class="nm" style="left:57.3px;top:879.68px"><span>Япония</span></div>
<div class="tr" style="left:193.2px;top:879.85px;width:171.6px"></div>
<div class="br" style="left:193.2px;top:879.85px;width:49.01px"></div>
<div class="lb" style="left:250.85px;top:881.60px">16,7%</div>
<svg class="fl" style="left:37.0px;top:901.08px"><use href="#f-pl"/></svg>
<div class="nm" style="left:57.3px;top:902.36px"><span>Польша</span></div>
<div class="tr" style="left:193.2px;top:902.53px;width:171.6px"></div>
<div class="br" style="left:193.2px;top:902.53px;width:50.48px"></div>
<div class="lb" style="left:252.42px;top:904.28px">17,2%</div>
<svg class="fl" style="left:37.0px;top:923.76px"><use href="#f-pt"/></svg>
<div class="nm" style="left:57.3px;top:925.04px"><span>Португалия</span></div>
<div class="tr" style="left:193.2px;top:925.21px;width:171.6px"></div>
<div class="br" style="left:193.2px;top:925.21px;width:51.36px"></div>
<div class="lb" style="left:253.36px;top:926.96px">17,5%</div>
<svg class="fl" style="left:37.0px;top:946.44px"><use href="#f-gr"/></svg>
<div class="nm" style="left:57.3px;top:947.72px"><span>Греция</span></div>
<div class="tr" style="left:193.2px;top:947.89px;width:171.6px"></div>
<div class="br" style="left:193.2px;top:947.89px;width:51.66px"></div>
<div class="lb" style="left:253.68px;top:949.64px">17,6%</div>
<svg class="fl" style="left:37.0px;top:969.12px"><use href="#f-hu"/></svg>
<div class="nm" style="left:57.3px;top:970.40px"><span>Венгрия</span></div>
<div class="tr" style="left:193.2px;top:970.57px;width:171.6px"></div>
<div class="br" style="left:193.2px;top:970.57px;width:52.83px"></div>
<div class="lb" style="left:254.93px;top:972.32px">18%</div>
<svg class="fl" style="left:37.0px;top:991.80px"><use href="#f-cl"/></svg>
<div class="nm" style="left:57.3px;top:993.08px"><span>Чили</span></div>
<div class="tr" style="left:193.2px;top:993.25px;width:171.6px"></div>
<div class="br" style="left:193.2px;top:993.25px;width:54.30px"></div>
<div class="lb" style="left:256.50px;top:995.00px">18,5%</div>
<svg class="fl" style="left:37.0px;top:1014.48px"><use href="#f-co"/></svg>
<div class="nm" style="left:57.3px;top:1015.76px"><span>Колумбия</span></div>
<div class="tr" style="left:193.2px;top:1015.93px;width:171.6px"></div>
<div class="br" style="left:193.2px;top:1015.93px;width:54.59px"></div>
<div class="lb" style="left:256.81px;top:1017.68px">18,6%</div>
<svg class="fl" style="left:37.0px;top:1037.16px"><use href="#f-ve"/></svg>
<div class="nm" style="left:57.3px;top:1038.44px"><span>Венесуэла</span></div>
<div class="tr" style="left:193.2px;top:1038.61px;width:171.6px"></div>
<div class="br" style="left:193.2px;top:1038.61px;width:54.59px"></div>
<div class="lb" style="left:256.81px;top:1040.36px">18,6%</div>
<svg class="fl" style="left:37.0px;top:1059.84px"><use href="#f-uy"/></svg>
<div class="nm" style="left:57.3px;top:1061.12px"><span>Уругвай</span></div>
<div class="tr" style="left:193.2px;top:1061.29px;width:171.6px"></div>
<div class="br" style="left:193.2px;top:1061.29px;width:55.18px"></div>
<div class="lb" style="left:257.44px;top:1063.04px">18,8%</div>
<svg class="fl" style="left:37.0px;top:1082.52px"><use href="#f-lv"/></svg>
<div class="nm" style="left:57.3px;top:1083.80px"><span>Латвия</span></div>
<div class="tr" style="left:193.2px;top:1083.97px;width:171.6px"></div>
<div class="br" style="left:193.2px;top:1083.97px;width:56.65px"></div>
<div class="lb" style="left:259.01px;top:1085.72px">19,3%</div>
<svg class="fl" style="left:37.0px;top:1105.20px"><use href="#f-kw"/></svg>
<div class="nm" style="left:57.3px;top:1106.48px"><span>Кувейт</span></div>
<div class="tr" style="left:193.2px;top:1106.65px;width:171.6px"></div>
<div class="br" style="left:193.2px;top:1106.65px;width:56.65px"></div>
<div class="lb" style="left:259.01px;top:1108.40px">19,3%</div>
<svg class="fl" style="left:37.0px;top:1127.88px"><use href="#f-bg"/></svg>
<div class="nm" style="left:57.3px;top:1129.16px"><span>Болгария</span></div>
<div class="tr" style="left:193.2px;top:1129.33px;width:171.6px"></div>
<div class="br" style="left:193.2px;top:1129.33px;width:56.65px"></div>
<div class="lb" style="left:259.01px;top:1131.08px">19,3%</div>
<svg class="fl" style="left:37.0px;top:1150.56px"><use href="#f-sk"/></svg>
<div class="nm" style="left:57.3px;top:1151.84px"><span>Словакия</span></div>
<div class="tr" style="left:193.2px;top:1152.01px;width:171.6px"></div>
<div class="br" style="left:193.2px;top:1152.01px;width:57.53px"></div>
<div class="lb" style="left:259.95px;top:1153.76px">19,6%</div>
<svg class="fl" style="left:37.0px;top:1173.24px"><use href="#f-hr"/></svg>
<div class="nm" style="left:57.3px;top:1174.52px"><span>Хорватия</span></div>
<div class="tr" style="left:193.2px;top:1174.69px;width:171.6px"></div>
<div class="br" style="left:193.2px;top:1174.69px;width:57.53px"></div>
<div class="lb" style="left:259.95px;top:1176.44px">19,6%</div>
<svg class="fl" style="left:37.0px;top:1195.92px"><use href="#f-cn"/></svg>
<div class="nm" style="left:57.3px;top:1197.20px"><span>Китай</span></div>
<div class="tr" style="left:193.2px;top:1197.37px;width:171.6px"></div>
<div class="br" style="left:193.2px;top:1197.37px;width:58.70px"></div>
<div class="lb" style="left:261.20px;top:1199.12px">20%</div>
<svg class="fl" style="left:37.0px;top:1218.60px"><use href="#f-ee"/></svg>
<div class="nm" style="left:57.3px;top:1219.88px"><span>Эстония</span></div>
<div class="tr" style="left:193.2px;top:1220.05px;width:171.6px"></div>
<div class="br" style="left:193.2px;top:1220.05px;width:59.29px"></div>
<div class="lb" style="left:261.83px;top:1221.80px">20,2%</div>
<svg class="fl" style="left:37.0px;top:1241.28px"><use href="#f-sa"/></svg>
<div class="nm" style="left:57.3px;top:1242.56px"><span>Сауд. Аравия</span></div>
<div class="tr" style="left:193.2px;top:1242.73px;width:171.6px"></div>
<div class="br" style="left:193.2px;top:1242.73px;width:60.17px"></div>
<div class="lb" style="left:262.77px;top:1244.48px">20,5%</div>
<svg class="fl" style="left:37.0px;top:1263.96px"><use href="#f-lt"/></svg>
<div class="nm" style="left:57.3px;top:1265.24px"><span>Литва</span></div>
<div class="tr" style="left:193.2px;top:1265.41px;width:171.6px"></div>
<div class="br" style="left:193.2px;top:1265.41px;width:61.63px"></div>
<div class="lb" style="left:264.33px;top:1267.16px">21%</div>
<svg class="fl" style="left:37.0px;top:1286.64px"><use href="#f-lb"/></svg>
<div class="nm" style="left:57.3px;top:1287.92px"><span>Ливан</span></div>
<div class="tr" style="left:193.2px;top:1288.09px;width:171.6px"></div>
<div class="br" style="left:193.2px;top:1288.09px;width:61.63px"></div>
<div class="lb" style="left:264.33px;top:1289.84px">21%</div>
<svg class="fl" style="left:37.0px;top:1309.32px"><use href="#f-za"/></svg>
<div class="nm" style="left:57.3px;top:1310.60px"><span>ЮАР</span></div>
<div class="tr" style="left:193.2px;top:1310.77px;width:171.6px"></div>
<div class="br" style="left:193.2px;top:1310.77px;width:62.52px"></div>
<div class="lb" style="left:265.28px;top:1312.52px">21,3%</div>
<svg class="fl" style="left:37.0px;top:1332.00px"><use href="#f-om"/></svg>
<div class="nm" style="left:57.3px;top:1333.28px"><span>Оман</span></div>
<div class="tr" style="left:193.2px;top:1333.45px;width:171.6px"></div>
<div class="br" style="left:193.2px;top:1333.45px;width:66.33px"></div>
<div class="lb" style="left:269.33px;top:1335.20px">22,6%</div>
<svg class="fl" style="left:37.0px;top:1354.68px"><use href="#f-ar"/></svg>
<div class="nm" style="left:57.3px;top:1355.96px"><span>Аргентина</span></div>
<div class="tr" style="left:193.2px;top:1356.13px;width:171.6px"></div>
<div class="br" style="left:193.2px;top:1356.13px;width:68.09px"></div>
<div class="lb" style="left:271.09px;top:1357.88px">23,2%</div>
<svg class="fl" style="left:37.0px;top:1377.36px"><use href="#f-rs"/></svg>
<div class="nm" style="left:57.3px;top:1378.64px"><span>Сербия</span></div>
<div class="tr" style="left:193.2px;top:1378.81px;width:171.6px"></div>
<div class="br" style="left:193.2px;top:1378.81px;width:70.73px"></div>
<div class="lb" style="left:273.73px;top:1380.56px">24,1%</div>
<svg class="fl" style="left:382.0px;top:198.00px"><use href="#f-tn"/></svg>
<div class="nm" style="left:401.8px;top:199.28px"><span>Тунис</span></div>
<div class="tr" style="left:522.0px;top:199.45px;width:171.6px"></div>
<div class="br" style="left:522.0px;top:199.45px;width:71.03px"></div>
<div class="lb" style="left:601.93px;top:201.20px">24,2%</div>
<svg class="fl" style="left:382.0px;top:220.68px"><use href="#f-ro"/></svg>
<div class="nm" style="left:401.8px;top:221.96px"><span>Румыния</span></div>
<div class="tr" style="left:522.0px;top:222.13px;width:171.6px"></div>
<div class="br" style="left:522.0px;top:222.13px;width:73.96px"></div>
<div class="lb" style="left:604.86px;top:223.88px">25,2%</div>
<svg class="fl" style="left:382.0px;top:243.36px"><use href="#f-mx"/></svg>
<div class="nm" style="left:401.8px;top:244.64px"><span>Мексика</span></div>
<div class="tr" style="left:522.0px;top:244.81px;width:171.6px"></div>
<div class="br" style="left:522.0px;top:244.81px;width:76.90px"></div>
<div class="lb" style="left:607.80px;top:246.56px">26,2%</div>
<svg class="fl" style="left:382.0px;top:266.04px"><use href="#f-ec"/></svg>
<div class="nm" style="left:401.8px;top:267.32px"><span>Эквадор</span></div>
<div class="tr" style="left:522.0px;top:267.49px;width:171.6px"></div>
<div class="br" style="left:522.0px;top:267.49px;width:77.19px"></div>
<div class="lb" style="left:608.09px;top:269.24px">26,3%</div>
<svg class="fl" style="left:382.0px;top:288.72px"><use href="#f-jo"/></svg>
<div class="nm" style="left:401.8px;top:290.00px"><span>Иордания</span></div>
<div class="tr" style="left:522.0px;top:290.17px;width:171.6px"></div>
<div class="br" style="left:522.0px;top:290.17px;width:77.48px"></div>
<div class="lb" style="left:608.38px;top:291.92px">26,4%</div>
<svg class="fl" style="left:382.0px;top:311.40px"><use href="#f-sv"/></svg>
<div class="nm" style="left:401.8px;top:312.68px"><span>Сальвадор</span></div>
<div class="tr" style="left:522.0px;top:312.85px;width:171.6px"></div>
<div class="br" style="left:522.0px;top:312.85px;width:77.78px"></div>
<div class="lb" style="left:608.68px;top:314.60px">26,5%</div>
<svg class="fl" style="left:382.0px;top:334.08px"><use href="#f-pe"/></svg>
<div class="nm" style="left:401.8px;top:335.36px"><span>Перу</span></div>
<div class="tr" style="left:522.0px;top:335.53px;width:171.6px"></div>
<div class="br" style="left:522.0px;top:335.53px;width:78.07px"></div>
<div class="lb" style="left:608.97px;top:337.28px">26,6%</div>
<svg class="fl" style="left:382.0px;top:356.76px"><use href="#f-do"/></svg>
<div class="nm" style="left:401.8px;top:358.04px"><span style="letter-spacing:-1.0px">Доминикан. Респ.</span></div>
<div class="tr" style="left:522.0px;top:358.21px;width:171.6px"></div>
<div class="br" style="left:522.0px;top:358.21px;width:78.66px"></div>
<div class="lb" style="left:609.56px;top:359.96px">26,8%</div>
<svg class="fl" style="left:382.0px;top:379.44px"><use href="#f-me"/></svg>
<div class="nm" style="left:401.8px;top:380.72px"><span>Черногория</span></div>
<div class="tr" style="left:522.0px;top:380.89px;width:171.6px"></div>
<div class="br" style="left:522.0px;top:380.89px;width:79.83px"></div>
<div class="lb" style="left:610.73px;top:382.64px">27,2%</div>
<svg class="fl" style="left:382.0px;top:402.12px"><use href="#f-tr"/></svg>
<div class="nm" style="left:401.8px;top:403.40px"><span>Турция</span></div>
<div class="tr" style="left:522.0px;top:403.57px;width:171.6px"></div>
<div class="br" style="left:522.0px;top:403.57px;width:80.13px"></div>
<div class="lb" style="left:611.03px;top:405.32px">27,3%</div>
<svg class="fl" style="left:382.0px;top:424.80px"><use href="#f-tz"/></svg>
<div class="nm" style="left:401.8px;top:426.08px"><span>Танзания</span></div>
<div class="tr" style="left:522.0px;top:426.25px;width:171.6px"></div>
<div class="br" style="left:522.0px;top:426.25px;width:80.42px"></div>
<div class="lb" style="left:611.32px;top:428.00px">27,4%</div>
<svg class="fl" style="left:382.0px;top:447.48px"><use href="#f-my"/></svg>
<div class="nm" style="left:401.8px;top:448.76px"><span>Малайзия</span></div>
<div class="tr" style="left:522.0px;top:448.93px;width:171.6px"></div>
<div class="br" style="left:522.0px;top:448.93px;width:80.71px"></div>
<div class="lb" style="left:611.61px;top:450.68px">27,5%</div>
<svg class="fl" style="left:382.0px;top:470.16px"><use href="#f-lk"/></svg>
<div class="nm" style="left:401.8px;top:471.44px"><span>Шри-Ланка</span></div>
<div class="tr" style="left:522.0px;top:471.61px;width:171.6px"></div>
<div class="br" style="left:522.0px;top:471.61px;width:81.30px"></div>
<div class="lb" style="left:612.20px;top:473.36px">27,7%</div>
<svg class="fl" style="left:382.0px;top:492.84px"><use href="#f-th"/></svg>
<div class="nm" style="left:401.8px;top:494.12px"><span>Таиланд</span></div>
<div class="tr" style="left:522.0px;top:494.29px;width:171.6px"></div>
<div class="br" style="left:522.0px;top:494.29px;width:83.06px"></div>
<div class="lb" style="left:613.96px;top:496.04px">28,3%</div>
<svg class="fl" style="left:382.0px;top:515.52px"><use href="#f-ir"/></svg>
<div class="nm" style="left:401.8px;top:516.80px"><span>Иран</span></div>
<div class="tr" style="left:522.0px;top:516.97px;width:171.6px"></div>
<div class="br" style="left:522.0px;top:516.97px;width:84.23px"></div>
<div class="lb" style="left:615.13px;top:518.72px">28,7%</div>
<svg class="fl" style="left:382.0px;top:538.20px"><use href="#f-ru"/></svg>
<div class="nm" style="left:401.8px;top:539.48px"><span>Россия</span></div>
<div class="tr" style="left:522.0px;top:539.65px;width:171.6px"></div>
<div class="br" style="left:522.0px;top:539.65px;width:85.11px"></div>
<div class="lb" style="left:616.01px;top:541.40px">29%</div>
<svg class="fl" style="left:382.0px;top:560.88px"><use href="#f-bo"/></svg>
<div class="nm" style="left:401.8px;top:562.16px"><span>Боливия</span></div>
<div class="tr" style="left:522.0px;top:562.33px;width:171.6px"></div>
<div class="br" style="left:522.0px;top:562.33px;width:85.70px"></div>
<div class="lb" style="left:616.60px;top:564.08px">29,2%</div>
<svg class="fl" style="left:382.0px;top:583.56px"><use href="#f-iq"/></svg>
<div class="nm" style="left:401.8px;top:584.84px"><span>Ирак</span></div>
<div class="tr" style="left:522.0px;top:585.01px;width:171.6px"></div>
<div class="br" style="left:522.0px;top:585.01px;width:86.88px"></div>
<div class="lb" style="left:617.78px;top:586.76px">29,6%</div>
<svg class="fl" style="left:382.0px;top:606.24px"><use href="#f-ba"/></svg>
<div class="nm" style="left:401.8px;top:607.52px"><span style="letter-spacing:0.4px">Босния и Герц.</span></div>
<div class="tr" style="left:522.0px;top:607.69px;width:171.6px"></div>
<div class="br" style="left:522.0px;top:607.69px;width:88.05px"></div>
<div class="lb" style="left:618.95px;top:609.44px">30%</div>
<svg class="fl" style="left:382.0px;top:628.92px"><use href="#f-py"/></svg>
<div class="nm" style="left:401.8px;top:630.20px"><span>Парагвай</span></div>
<div class="tr" style="left:522.0px;top:630.37px;width:171.6px"></div>
<div class="br" style="left:522.0px;top:630.37px;width:88.93px"></div>
<div class="lb" style="left:619.83px;top:632.12px">30,3%</div>
<svg class="fl" style="left:382.0px;top:651.60px"><use href="#f-vn"/></svg>
<div class="nm" style="left:401.8px;top:652.88px"><span>Вьетнам</span></div>
<div class="tr" style="left:522.0px;top:653.05px;width:171.6px"></div>
<div class="br" style="left:522.0px;top:653.05px;width:91.57px"></div>
<div class="lb" style="left:622.47px;top:654.80px">31,2%</div>
<svg class="fl" style="left:382.0px;top:674.28px"><use href="#f-cr"/></svg>
<div class="nm" style="left:401.8px;top:675.56px"><span>Коста-Рика</span></div>
<div class="tr" style="left:522.0px;top:675.73px;width:171.6px"></div>
<div class="br" style="left:522.0px;top:675.73px;width:92.75px"></div>
<div class="lb" style="left:623.65px;top:677.48px">31,6%</div>
<svg class="fl" style="left:382.0px;top:696.96px"><use href="#f-hn"/></svg>
<div class="nm" style="left:401.8px;top:698.24px"><span>Гондурас</span></div>
<div class="tr" style="left:522.0px;top:698.41px;width:171.6px"></div>
<div class="br" style="left:522.0px;top:698.41px;width:93.63px"></div>
<div class="lb" style="left:624.53px;top:700.16px">31,9%</div>
<svg class="fl" style="left:382.0px;top:719.64px"><use href="#f-by"/></svg>
<div class="nm" style="left:401.8px;top:720.92px"><span>Беларусь</span></div>
<div class="tr" style="left:522.0px;top:721.09px;width:171.6px"></div>
<div class="br" style="left:522.0px;top:721.09px;width:94.21px"></div>
<div class="lb" style="left:625.11px;top:722.84px">32,1%</div>
<svg class="fl" style="left:382.0px;top:742.32px"><use href="#f-in"/></svg>
<div class="nm" style="left:401.8px;top:743.60px"><span>Индия</span></div>
<div class="tr" style="left:522.0px;top:743.77px;width:171.6px"></div>
<div class="br" style="left:522.0px;top:743.77px;width:94.21px"></div>
<div class="lb" style="left:625.11px;top:745.52px">32,1%</div>
<svg class="fl" style="left:382.0px;top:765.00px"><use href="#f-ge"/></svg>
<div class="nm" style="left:401.8px;top:766.28px"><span>Грузия</span></div>
<div class="tr" style="left:522.0px;top:766.45px;width:171.6px"></div>
<div class="br" style="left:522.0px;top:766.45px;width:94.80px"></div>
<div class="lb" style="left:625.70px;top:768.20px">32,3%</div>
<svg class="fl" style="left:382.0px;top:787.68px"><use href="#f-mk"/></svg>
<div class="nm" style="left:401.8px;top:788.96px"><span style="letter-spacing:-0.15px">Сев. Македония</span></div>
<div class="tr" style="left:522.0px;top:789.13px;width:171.6px"></div>
<div class="br" style="left:522.0px;top:789.13px;width:97.74px"></div>
<div class="lb" style="left:628.64px;top:790.88px">33,3%</div>
<svg class="fl" style="left:382.0px;top:810.36px"><use href="#f-id"/></svg>
<div class="nm" style="left:401.8px;top:811.64px"><span>Индонезия</span></div>
<div class="tr" style="left:522.0px;top:811.81px;width:171.6px"></div>
<div class="br" style="left:522.0px;top:811.81px;width:99.50px"></div>
<div class="lb" style="left:630.40px;top:813.56px">33,9%</div>
<svg class="fl" style="left:382.0px;top:833.04px"><use href="#f-ma"/></svg>
<div class="nm" style="left:401.8px;top:834.32px"><span>Марокко</span></div>
<div class="tr" style="left:522.0px;top:834.49px;width:171.6px"></div>
<div class="br" style="left:522.0px;top:834.49px;width:99.50px"></div>
<div class="lb" style="left:630.40px;top:836.24px">33,9%</div>
<svg class="fl" style="left:382.0px;top:855.72px"><use href="#f-gt"/></svg>
<div class="nm" style="left:401.8px;top:857.00px"><span>Гватемала</span></div>
<div class="tr" style="left:522.0px;top:857.17px;width:171.6px"></div>
<div class="br" style="left:522.0px;top:857.17px;width:101.55px"></div>
<div class="lb" style="left:632.45px;top:858.92px">34,6%</div>
<svg class="fl" style="left:382.0px;top:878.40px"><use href="#f-tm"/></svg>
<div class="nm" style="left:401.8px;top:879.68px"><span>Туркмения</span></div>
<div class="tr" style="left:522.0px;top:879.85px;width:171.6px"></div>
<div class="br" style="left:522.0px;top:879.85px;width:108.30px"></div>
<div class="lb" style="left:639.20px;top:881.60px">36,9%</div>
<svg class="fl" style="left:382.0px;top:901.08px"><use href="#f-dz"/></svg>
<div class="nm" style="left:401.8px;top:902.36px"><span>Алжир</span></div>
<div class="tr" style="left:522.0px;top:902.53px;width:171.6px"></div>
<div class="br" style="left:522.0px;top:902.53px;width:109.48px"></div>
<div class="lb" style="left:640.38px;top:904.28px">37,3%</div>
<svg class="fl" style="left:382.0px;top:923.76px"><use href="#f-eg"/></svg>
<div class="nm" style="left:401.8px;top:925.04px"><span>Египет</span></div>
<div class="tr" style="left:522.0px;top:925.21px;width:171.6px"></div>
<div class="br" style="left:522.0px;top:925.21px;width:110.36px"></div>
<div class="lb" style="left:641.26px;top:926.96px">37,6%</div>
<svg class="fl" style="left:382.0px;top:946.44px"><use href="#f-ci"/></svg>
<div class="nm" style="left:401.8px;top:947.72px"><span>Кот-д’Ивуар</span></div>
<div class="tr" style="left:522.0px;top:947.89px;width:171.6px"></div>
<div class="br" style="left:522.0px;top:947.89px;width:113.00px"></div>
<div class="lb" style="left:643.90px;top:949.64px">38,5%</div>
<svg class="fl" style="left:382.0px;top:969.12px"><use href="#f-ph"/></svg>
<div class="nm" style="left:401.8px;top:970.40px"><span>Филиппины</span></div>
<div class="tr" style="left:522.0px;top:970.57px;width:171.6px"></div>
<div class="br" style="left:522.0px;top:970.57px;width:113.29px"></div>
<div class="lb" style="left:644.19px;top:972.32px">38,6%</div>
<svg class="fl" style="left:382.0px;top:991.80px"><use href="#f-gh"/></svg>
<div class="nm" style="left:401.8px;top:993.08px"><span>Гана</span></div>
<div class="tr" style="left:522.0px;top:993.25px;width:171.6px"></div>
<div class="br" style="left:522.0px;top:993.25px;width:115.05px"></div>
<div class="lb" style="left:645.95px;top:995.00px">39,2%</div>
<svg class="fl" style="left:382.0px;top:1014.48px"><use href="#f-pk"/></svg>
<div class="nm" style="left:401.8px;top:1015.76px"><span>Пакистан</span></div>
<div class="tr" style="left:522.0px;top:1015.93px;width:171.6px"></div>
<div class="br" style="left:522.0px;top:1015.93px;width:116.23px"></div>
<div class="lb" style="left:647.13px;top:1017.68px">39,6%</div>
<svg class="fl" style="left:382.0px;top:1037.16px"><use href="#f-md"/></svg>
<div class="nm" style="left:401.8px;top:1038.44px"><span>Молдова</span></div>
<div class="tr" style="left:522.0px;top:1038.61px;width:171.6px"></div>
<div class="br" style="left:522.0px;top:1038.61px;width:120.63px"></div>
<div class="lb" style="left:651.53px;top:1040.36px">41,1%</div>
<svg class="fl" style="left:382.0px;top:1059.84px"><use href="#f-et"/></svg>
<div class="nm" style="left:401.8px;top:1061.12px"><span>Эфиопия</span></div>
<div class="tr" style="left:522.0px;top:1061.29px;width:171.6px"></div>
<div class="br" style="left:522.0px;top:1061.29px;width:121.22px"></div>
<div class="lb" style="left:652.12px;top:1063.04px">41,3%</div>
<svg class="fl" style="left:382.0px;top:1082.52px"><use href="#f-ua"/></svg>
<div class="nm" style="left:401.8px;top:1083.80px"><span>Украина</span></div>
<div class="tr" style="left:522.0px;top:1083.97px;width:171.6px"></div>
<div class="br" style="left:522.0px;top:1083.97px;width:122.10px"></div>
<div class="lb" style="left:653.00px;top:1085.72px">41,6%</div>
<svg class="fl" style="left:382.0px;top:1105.20px"><use href="#f-kh"/></svg>
<div class="nm" style="left:401.8px;top:1106.48px"><span>Камбоджа</span></div>
<div class="tr" style="left:522.0px;top:1106.65px;width:171.6px"></div>
<div class="br" style="left:522.0px;top:1106.65px;width:125.32px"></div>
<div class="lb" style="left:656.22px;top:1108.40px">42,7%</div>
<svg class="fl" style="left:382.0px;top:1127.88px"><use href="#f-az"/></svg>
<div class="nm" style="left:401.8px;top:1129.16px"><span>Азербайджан</span></div>
<div class="tr" style="left:522.0px;top:1129.33px;width:171.6px"></div>
<div class="br" style="left:522.0px;top:1129.33px;width:127.97px"></div>
<div class="lb in" style="right:92.03px;top:1131.68px">43,6%</div>
<svg class="fl" style="left:382.0px;top:1150.56px"><use href="#f-ug"/></svg>
<div class="nm" style="left:401.8px;top:1151.84px"><span>Уганда</span></div>
<div class="tr" style="left:522.0px;top:1152.01px;width:171.6px"></div>
<div class="br" style="left:522.0px;top:1152.01px;width:129.73px"></div>
<div class="lb in" style="right:90.27px;top:1154.36px">44,2%</div>
<svg class="fl" style="left:382.0px;top:1173.24px"><use href="#f-cm"/></svg>
<div class="nm" style="left:401.8px;top:1174.52px"><span>Камерун</span></div>
<div class="tr" style="left:522.0px;top:1174.69px;width:171.6px"></div>
<div class="br" style="left:522.0px;top:1174.69px;width:132.66px"></div>
<div class="lb in" style="right:87.34px;top:1177.04px">45,2%</div>
<svg class="fl" style="left:382.0px;top:1195.92px"><use href="#f-uz"/></svg>
<div class="nm" style="left:401.8px;top:1197.20px"><span>Узбекистан</span></div>
<div class="tr" style="left:522.0px;top:1197.37px;width:171.6px"></div>
<div class="br" style="left:522.0px;top:1197.37px;width:136.48px"></div>
<div class="lb in" style="right:83.52px;top:1199.72px">46,5%</div>
<svg class="fl" style="left:382.0px;top:1218.60px"><use href="#f-kz"/></svg>
<div class="nm" style="left:401.8px;top:1219.88px"><span>Казахстан</span></div>
<div class="tr" style="left:522.0px;top:1220.05px;width:171.6px"></div>
<div class="br" style="left:522.0px;top:1220.05px;width:144.99px"></div>
<div class="lb in" style="right:75.01px;top:1222.40px">49,4%</div>
<svg class="fl" style="left:382.0px;top:1241.28px"><use href="#f-ao"/></svg>
<div class="nm" style="left:401.8px;top:1242.56px"><span>Ангола</span></div>
<div class="tr" style="left:522.0px;top:1242.73px;width:171.6px"></div>
<div class="br" style="left:522.0px;top:1242.73px;width:145.87px"></div>
<div class="lb in" style="right:74.13px;top:1245.08px">49,7%</div>
<svg class="fl" style="left:382.0px;top:1263.96px"><use href="#f-la"/></svg>
<div class="nm" style="left:401.8px;top:1265.24px"><span>Лаос</span></div>
<div class="tr" style="left:522.0px;top:1265.41px;width:171.6px"></div>
<div class="br" style="left:522.0px;top:1265.41px;width:148.51px"></div>
<div class="lb in" style="right:71.49px;top:1267.76px">50,6%</div>
<svg class="fl" style="left:382.0px;top:1286.64px"><use href="#f-bd"/></svg>
<div class="nm" style="left:401.8px;top:1287.92px"><span>Бангладеш</span></div>
<div class="tr" style="left:522.0px;top:1288.09px;width:171.6px"></div>
<div class="br" style="left:522.0px;top:1288.09px;width:154.67px"></div>
<div class="lb in" style="right:65.33px;top:1290.44px">52,7%</div>
<svg class="fl" style="left:382.0px;top:1309.32px"><use href="#f-ke"/></svg>
<div class="nm" style="left:401.8px;top:1310.60px"><span>Кения</span></div>
<div class="tr" style="left:522.0px;top:1310.77px;width:171.6px"></div>
<div class="br" style="left:522.0px;top:1310.77px;width:164.65px"></div>
<div class="lb in" style="right:55.35px;top:1313.12px">56,1%</div>
<svg class="fl" style="left:382.0px;top:1332.00px"><use href="#f-mm"/></svg>
<div class="nm" style="left:401.8px;top:1333.28px"><span>Мьянма</span></div>
<div class="tr" style="left:522.0px;top:1333.45px;width:171.6px"></div>
<div class="br" style="left:522.0px;top:1333.45px;width:166.12px"></div>
<div class="lb in" style="right:53.88px;top:1335.80px">56,6%</div>
<svg class="fl" style="left:382.0px;top:1354.68px"><use href="#f-ng"/></svg>
<div class="nm" style="left:401.8px;top:1355.96px"><span>Нигерия</span></div>
<div class="tr" style="left:522.0px;top:1356.13px;width:171.6px"></div>
<div class="br" style="left:522.0px;top:1356.13px;width:173.16px"></div>
<div class="lb in" style="right:46.84px;top:1358.48px">59%</div>
<div class="ft"></div>
<div class="fn" style="left:22.6px;top:1427.20px;font-size:13px;line-height:13px">*</div>
<div class="fn" style="left:29px;top:1430.27px">Процент от всех потребительских расходов. На еду, которую едят дома.</div>
<div class="fn" style="left:29px;top:1444.57px">Источники: Euromonitor International, статистические ведомства. Август 2023 г.</div>
<svg style="position:absolute;left:628px;top:1425px" width="34" height="33" viewBox="0 0 34 33">
<g fill="none" stroke="#e9f9f2" stroke-width="1.1" stroke-linecap="round">
<path d="M13,2.7 A12.5,12.5 0 0 0 8.4,26.1"/>
<path d="M21.4,3.5 A12.5,12.5 0 0 1 26.3,10"/>
<path d="M13.6,2.7 Q6,12 9.9,20.4"/>
<path d="M15.2,8 L15.8,4.6 L18.8,8.4"/>
<path d="M20.6,6 L22.2,2.8 L24.2,8"/>
</g>
<path d="M8.9,17.2 L18.2,14.2 Q18.4,9.8 20.2,9.2 L22.6,8.8 Q24.4,10.5 24.2,12.8 L31.2,17.2 L29.4,30.6 L10.5,28.2 Z" fill="#eefaf5"/>
<path d="M11,26 L28,27.6" stroke="#9fd3bf" stroke-width="0.7"/>
<circle cx="18.2" cy="20.8" r="1" fill="none" stroke="#9fd3bf" stroke-width="0.6"/>
<circle cx="22" cy="21.6" r="1" fill="none" stroke="#9fd3bf" stroke-width="0.6"/>
</svg>
<div class="pc">picodi</div>
</body></html>
